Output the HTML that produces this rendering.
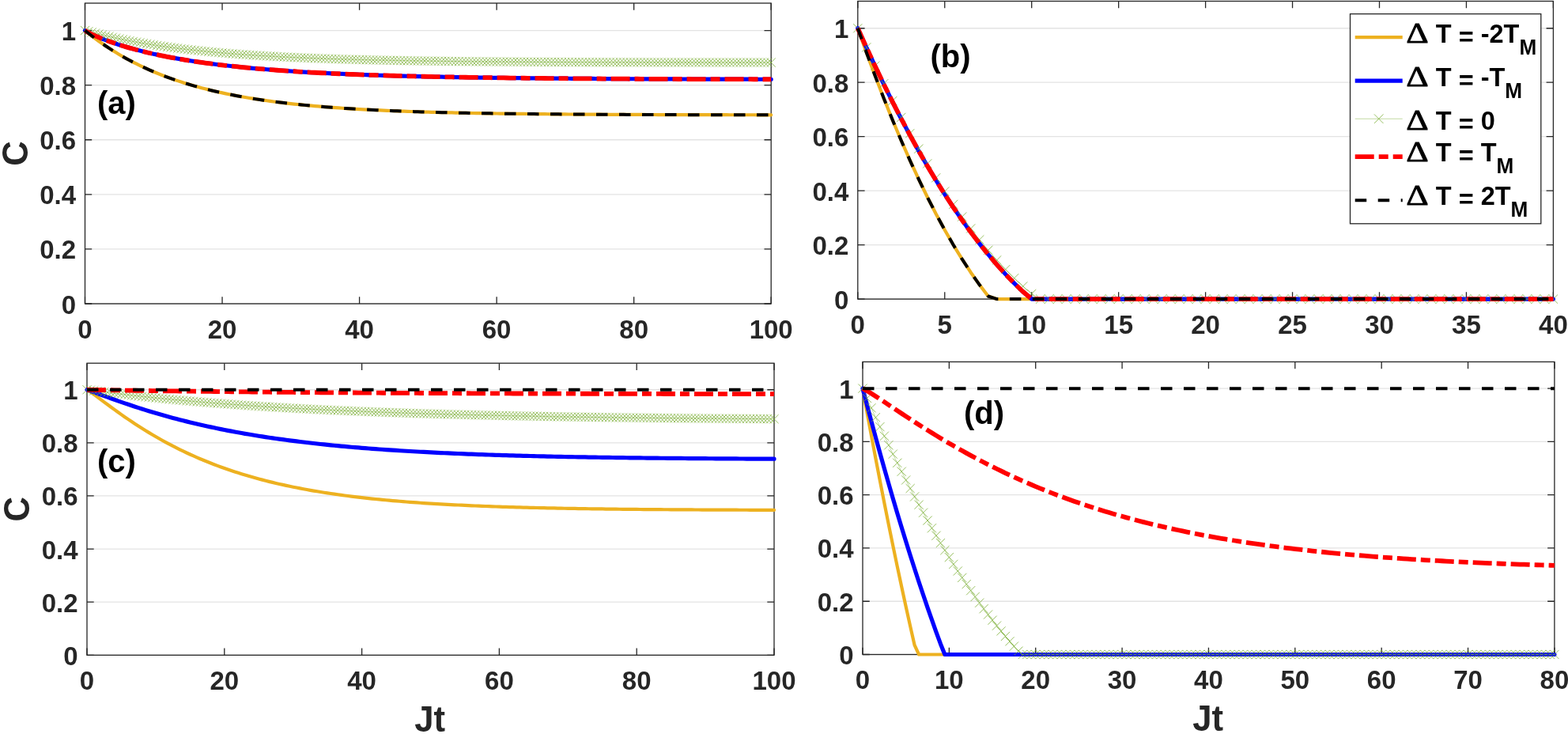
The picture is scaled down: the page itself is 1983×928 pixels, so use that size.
<!DOCTYPE html>
<html><head><meta charset="utf-8"><title>Figure</title>
<style>
html,body{margin:0;padding:0;background:#fff;}
body{width:1983px;height:928px;overflow:hidden;}
svg{display:block;}
.tk{font-family:'Liberation Sans', Arial, Helvetica, sans-serif;font-weight:bold;font-size:33px;fill:#262626;}
.lb{font-family:'Liberation Sans', Arial, Helvetica, sans-serif;font-weight:bold;font-size:40px;fill:#000;}
.ax{font-family:'Liberation Sans', Arial, Helvetica, sans-serif;font-weight:bold;font-size:46px;fill:#262626;}
.lg{font-family:'Liberation Sans', Arial, Helvetica, sans-serif;font-weight:bold;font-size:33.5px;fill:#000;}
.sb{font-size:27px;}
.dl{font-family:'Liberation Serif', serif;font-size:36px;fill:#000;stroke:#000;stroke-width:0.75px;}
</style></head>
<body>
<svg width="1983" height="928" viewBox="0 0 1983 928">
<rect width="1983" height="928" fill="#fff"/>
<line x1="107.5" y1="384" x2="975.2" y2="384" stroke="#e3e3e3" stroke-width="1.3"/>
<line x1="107.5" y1="314.91" x2="975.2" y2="314.91" stroke="#e3e3e3" stroke-width="1.3"/>
<line x1="107.5" y1="245.82" x2="975.2" y2="245.82" stroke="#e3e3e3" stroke-width="1.3"/>
<line x1="107.5" y1="176.73" x2="975.2" y2="176.73" stroke="#e3e3e3" stroke-width="1.3"/>
<line x1="107.5" y1="107.64" x2="975.2" y2="107.64" stroke="#e3e3e3" stroke-width="1.3"/>
<line x1="107.5" y1="38.55" x2="975.2" y2="38.55" stroke="#e3e3e3" stroke-width="1.3"/>
<path d="M107.5 384v-8.68M107.5 4v8.68M281.04 384v-8.68M281.04 4v8.68M454.58 384v-8.68M454.58 4v8.68M628.12 384v-8.68M628.12 4v8.68M801.66 384v-8.68M801.66 4v8.68M975.2 384v-8.68M975.2 4v8.68M107.5 384h8.68M975.2 384h-8.68M107.5 314.91h8.68M975.2 314.91h-8.68M107.5 245.82h8.68M975.2 245.82h-8.68M107.5 176.73h8.68M975.2 176.73h-8.68M107.5 107.64h8.68M975.2 107.64h-8.68M107.5 38.55h8.68M975.2 38.55h-8.68" stroke="#262626" stroke-width="1.3" fill="none"/>
<rect x="107.5" y="4" width="867.7" height="380" fill="none" stroke="#262626" stroke-width="1.3"/>
<polyline points="107.5,38.55 111.84,42.06 116.18,45.47 120.52,48.76 124.85,51.94 129.19,55.01 133.53,57.99 137.87,60.87 142.21,63.65 146.55,66.34 150.88,68.95 155.22,71.46 159.56,73.9 163.9,76.25 168.24,78.53 172.58,80.73 176.92,82.86 181.25,84.92 185.59,86.91 189.93,88.84 194.27,90.7 198.61,92.5 202.95,94.24 207.29,95.93 211.62,97.56 215.96,99.13 220.3,100.66 224.64,102.13 228.98,103.56 233.32,104.93 237.66,106.27 241.99,107.56 246.33,108.8 250.67,110.01 255.01,111.17 259.35,112.3 263.69,113.39 268.02,114.45 272.36,115.47 276.7,116.45 281.04,117.41 285.38,118.33 289.72,119.22 294.06,120.08 298.39,120.92 302.73,121.72 307.07,122.5 311.41,123.26 315.75,123.99 320.09,124.69 324.43,125.38 328.76,126.04 333.1,126.67 337.44,127.29 341.78,127.89 346.12,128.47 350.46,129.02 354.79,129.56 359.13,130.09 363.47,130.59 367.81,131.08 372.15,131.55 376.49,132.01 380.83,132.45 385.16,132.88 389.5,133.29 393.84,133.69 398.18,134.08 402.52,134.45 406.86,134.81 411.19,135.16 415.53,135.5 419.87,135.83 424.21,136.14 428.55,136.45 432.89,136.74 437.23,137.03 441.56,137.31 445.9,137.57 450.24,137.83 454.58,138.08 458.92,138.32 463.26,138.56 467.6,138.78 471.93,139 476.27,139.21 480.61,139.42 484.95,139.62 489.29,139.81 493.63,139.99 497.96,140.17 502.3,140.34 506.64,140.51 510.98,140.67 515.32,140.83 519.66,140.98 524,141.13 528.33,141.27 532.67,141.41 537.01,141.54 541.35,141.67 545.69,141.79 550.03,141.91 554.37,142.03 558.7,142.14 563.04,142.25 567.38,142.35 571.72,142.45 576.06,142.55 580.4,142.65 584.74,142.74 589.07,142.83 593.41,142.91 597.75,142.99 602.09,143.07 606.43,143.15 610.77,143.23 615.1,143.3 619.44,143.37 623.78,143.44 628.12,143.5 632.46,143.57 636.8,143.63 641.14,143.69 645.47,143.74 649.81,143.8 654.15,143.85 658.49,143.9 662.83,143.96 667.17,144 671.5,144.05 675.84,144.1 680.18,144.14 684.52,144.18 688.86,144.22 693.2,144.26 697.54,144.3 701.87,144.34 706.21,144.37 710.55,144.41 714.89,144.44 719.23,144.48 723.57,144.51 727.91,144.54 732.24,144.57 736.58,144.59 740.92,144.62 745.26,144.65 749.6,144.67 753.94,144.7 758.27,144.72 762.61,144.75 766.95,144.77 771.29,144.79 775.63,144.81 779.97,144.83 784.31,144.85 788.64,144.87 792.98,144.89 797.32,144.91 801.66,144.92 806,144.94 810.34,144.96 814.68,144.97 819.01,144.99 823.35,145 827.69,145.02 832.03,145.03 836.37,145.04 840.71,145.06 845.04,145.07 849.38,145.08 853.72,145.09 858.06,145.1 862.4,145.11 866.74,145.12 871.08,145.13 875.41,145.14 879.75,145.15 884.09,145.16 888.43,145.17 892.77,145.18 897.11,145.19 901.45,145.2 905.78,145.2 910.12,145.21 914.46,145.22 918.8,145.22 923.14,145.23 927.48,145.24 931.82,145.24 936.15,145.25 940.49,145.26 944.83,145.26 949.17,145.27 953.51,145.27 957.85,145.28 962.18,145.28 966.52,145.29 970.86,145.29 975.2,145.3" fill="none" stroke="#EDB120" stroke-width="4.2" stroke-linejoin="round" stroke-linecap="round"/>
<polyline points="107.5,38.55 111.84,41.14 116.18,43.32 120.52,45.33 124.85,47.21 129.19,48.99 133.53,50.68 137.87,52.28 142.21,53.82 146.55,55.29 150.88,56.7 155.22,58.05 159.56,59.35 163.9,60.61 168.24,61.81 172.58,62.97 176.92,64.09 181.25,65.18 185.59,66.22 189.93,67.23 194.27,68.2 198.61,69.14 202.95,70.05 207.29,70.93 211.62,71.78 215.96,72.61 220.3,73.4 224.64,74.18 228.98,74.92 233.32,75.65 237.66,76.35 241.99,77.03 246.33,77.69 250.67,78.33 255.01,78.94 259.35,79.54 263.69,80.13 268.02,80.69 272.36,81.24 276.7,81.77 281.04,82.29 285.38,82.79 289.72,83.27 294.06,83.74 298.39,84.2 302.73,84.65 307.07,85.08 311.41,85.5 315.75,85.9 320.09,86.3 324.43,86.68 328.76,87.05 333.1,87.42 337.44,87.77 341.78,88.11 346.12,88.44 350.46,88.76 354.79,89.08 359.13,89.38 363.47,89.68 367.81,89.97 372.15,90.25 376.49,90.52 380.83,90.78 385.16,91.04 389.5,91.29 393.84,91.54 398.18,91.77 402.52,92 406.86,92.23 411.19,92.44 415.53,92.66 419.87,92.86 424.21,93.06 428.55,93.26 432.89,93.45 437.23,93.63 441.56,93.81 445.9,93.99 450.24,94.16 454.58,94.32 458.92,94.48 463.26,94.64 467.6,94.79 471.93,94.94 476.27,95.09 480.61,95.23 484.95,95.36 489.29,95.5 493.63,95.63 497.96,95.75 502.3,95.88 506.64,96 510.98,96.11 515.32,96.23 519.66,96.34 524,96.44 528.33,96.55 532.67,96.65 537.01,96.75 541.35,96.85 545.69,96.94 550.03,97.03 554.37,97.12 558.7,97.21 563.04,97.29 567.38,97.38 571.72,97.46 576.06,97.54 580.4,97.61 584.74,97.69 589.07,97.76 593.41,97.83 597.75,97.9 602.09,97.97 606.43,98.03 610.77,98.1 615.1,98.16 619.44,98.22 623.78,98.28 628.12,98.33 632.46,98.39 636.8,98.44 641.14,98.5 645.47,98.55 649.81,98.6 654.15,98.65 658.49,98.7 662.83,98.74 667.17,98.79 671.5,98.83 675.84,98.88 680.18,98.92 684.52,98.96 688.86,99 693.2,99.04 697.54,99.08 701.87,99.11 706.21,99.15 710.55,99.19 714.89,99.22 719.23,99.25 723.57,99.29 727.91,99.32 732.24,99.35 736.58,99.38 740.92,99.41 745.26,99.44 749.6,99.47 753.94,99.49 758.27,99.52 762.61,99.55 766.95,99.57 771.29,99.6 775.63,99.62 779.97,99.64 784.31,99.67 788.64,99.69 792.98,99.71 797.32,99.73 801.66,99.75 806,99.77 810.34,99.79 814.68,99.81 819.01,99.83 823.35,99.85 827.69,99.87 832.03,99.88 836.37,99.9 840.71,99.92 845.04,99.93 849.38,99.95 853.72,99.96 858.06,99.98 862.4,99.99 866.74,100.01 871.08,100.02 875.41,100.04 879.75,100.05 884.09,100.06 888.43,100.07 892.77,100.09 897.11,100.1 901.45,100.11 905.78,100.12 910.12,100.13 914.46,100.14 918.8,100.15 923.14,100.16 927.48,100.18 931.82,100.18 936.15,100.19 940.49,100.2 944.83,100.21 949.17,100.22 953.51,100.23 957.85,100.24 962.18,100.25 966.52,100.26 970.86,100.26 975.2,100.27" fill="none" stroke="#0000FF" stroke-width="5.2" stroke-linejoin="round" stroke-linecap="round"/>
<g opacity="0.95"><polyline points="107.5,38.55 111.84,39.74 116.18,40.9 120.52,42.03 124.85,43.12 129.19,44.18 133.53,45.21 137.87,46.21 142.21,47.18 146.55,48.13 150.88,49.04 155.22,49.93 159.56,50.79 163.9,51.62 168.24,52.44 172.58,53.22 176.92,53.99 181.25,54.73 185.59,55.45 189.93,56.15 194.27,56.82 198.61,57.48 202.95,58.12 207.29,58.74 211.62,59.34 215.96,59.93 220.3,60.49 224.64,61.04 228.98,61.58 233.32,62.09 237.66,62.6 241.99,63.09 246.33,63.56 250.67,64.02 255.01,64.46 259.35,64.9 263.69,65.32 268.02,65.73 272.36,66.12 276.7,66.51 281.04,66.88 285.38,67.24 289.72,67.59 294.06,67.93 298.39,68.26 302.73,68.59 307.07,68.9 311.41,69.2 315.75,69.49 320.09,69.78 324.43,70.05 328.76,70.32 333.1,70.58 337.44,70.84 341.78,71.08 346.12,71.32 350.46,71.55 354.79,71.78 359.13,71.99 363.47,72.2 367.81,72.41 372.15,72.61 376.49,72.8 380.83,72.99 385.16,73.17 389.5,73.35 393.84,73.52 398.18,73.69 402.52,73.85 406.86,74 411.19,74.16 415.53,74.3 419.87,74.45 424.21,74.59 428.55,74.72 432.89,74.85 437.23,74.98 441.56,75.1 445.9,75.22 450.24,75.34 454.58,75.45 458.92,75.56 463.26,75.67 467.6,75.77 471.93,75.87 476.27,75.97 480.61,76.06 484.95,76.15 489.29,76.24 493.63,76.33 497.96,76.41 502.3,76.49 506.64,76.57 510.98,76.65 515.32,76.72 519.66,76.8 524,76.87 528.33,76.93 532.67,77 537.01,77.06 541.35,77.13 545.69,77.19 550.03,77.24 554.37,77.3 558.7,77.36 563.04,77.41 567.38,77.46 571.72,77.51 576.06,77.56 580.4,77.61 584.74,77.65 589.07,77.7 593.41,77.74 597.75,77.78 602.09,77.82 606.43,77.86 610.77,77.9 615.1,77.94 619.44,77.98 623.78,78.01 628.12,78.05 632.46,78.08 636.8,78.11 641.14,78.14 645.47,78.17 649.81,78.2 654.15,78.23 658.49,78.26 662.83,78.28 667.17,78.31 671.5,78.34 675.84,78.36 680.18,78.38 684.52,78.41 688.86,78.43 693.2,78.45 697.54,78.47 701.87,78.49 706.21,78.51 710.55,78.53 714.89,78.55 719.23,78.57 723.57,78.59 727.91,78.61 732.24,78.62 736.58,78.64 740.92,78.65 745.26,78.67 749.6,78.68 753.94,78.7 758.27,78.71 762.61,78.73 766.95,78.74 771.29,78.75 775.63,78.76 779.97,78.78 784.31,78.79 788.64,78.8 792.98,78.81 797.32,78.82 801.66,78.83 806,78.84 810.34,78.85 814.68,78.86 819.01,78.87 823.35,78.88 827.69,78.89 832.03,78.89 836.37,78.9 840.71,78.91 845.04,78.92 849.38,78.93 853.72,78.93 858.06,78.94 862.4,78.95 866.74,78.95 871.08,78.96 875.41,78.97 879.75,78.97 884.09,78.98 888.43,78.98 892.77,78.99 897.11,78.99 901.45,79 905.78,79 910.12,79.01 914.46,79.01 918.8,79.02 923.14,79.02 927.48,79.03 931.82,79.03 936.15,79.04 940.49,79.04 944.83,79.04 949.17,79.05 953.51,79.05 957.85,79.05 962.18,79.06 966.52,79.06 970.86,79.06 975.2,79.07" fill="none" stroke="#77AC30" stroke-width="0.8" stroke-opacity="0.6"/>
<path d="M101.9 32.95l11.2 11.2M101.9 44.15l11.2 -11.2M106.24 34.14l11.2 11.2M106.24 45.34l11.2 -11.2M110.58 35.3l11.2 11.2M110.58 46.5l11.2 -11.2M114.92 36.43l11.2 11.2M114.92 47.63l11.2 -11.2M119.25 37.52l11.2 11.2M119.25 48.72l11.2 -11.2M123.59 38.58l11.2 11.2M123.59 49.78l11.2 -11.2M127.93 39.61l11.2 11.2M127.93 50.81l11.2 -11.2M132.27 40.61l11.2 11.2M132.27 51.81l11.2 -11.2M136.61 41.58l11.2 11.2M136.61 52.78l11.2 -11.2M140.95 42.53l11.2 11.2M140.95 53.73l11.2 -11.2M145.28 43.44l11.2 11.2M145.28 54.64l11.2 -11.2M149.62 44.33l11.2 11.2M149.62 55.53l11.2 -11.2M153.96 45.19l11.2 11.2M153.96 56.39l11.2 -11.2M158.3 46.02l11.2 11.2M158.3 57.22l11.2 -11.2M162.64 46.84l11.2 11.2M162.64 58.04l11.2 -11.2M166.98 47.62l11.2 11.2M166.98 58.82l11.2 -11.2M171.32 48.39l11.2 11.2M171.32 59.59l11.2 -11.2M175.65 49.13l11.2 11.2M175.65 60.33l11.2 -11.2M179.99 49.85l11.2 11.2M179.99 61.05l11.2 -11.2M184.33 50.55l11.2 11.2M184.33 61.75l11.2 -11.2M188.67 51.22l11.2 11.2M188.67 62.42l11.2 -11.2M193.01 51.88l11.2 11.2M193.01 63.08l11.2 -11.2M197.35 52.52l11.2 11.2M197.35 63.72l11.2 -11.2M201.69 53.14l11.2 11.2M201.69 64.34l11.2 -11.2M206.02 53.74l11.2 11.2M206.02 64.94l11.2 -11.2M210.36 54.33l11.2 11.2M210.36 65.53l11.2 -11.2M214.7 54.89l11.2 11.2M214.7 66.09l11.2 -11.2M219.04 55.44l11.2 11.2M219.04 66.64l11.2 -11.2M223.38 55.98l11.2 11.2M223.38 67.18l11.2 -11.2M227.72 56.49l11.2 11.2M227.72 67.69l11.2 -11.2M232.06 57l11.2 11.2M232.06 68.2l11.2 -11.2M236.39 57.49l11.2 11.2M236.39 68.69l11.2 -11.2M240.73 57.96l11.2 11.2M240.73 69.16l11.2 -11.2M245.07 58.42l11.2 11.2M245.07 69.62l11.2 -11.2M249.41 58.86l11.2 11.2M249.41 70.06l11.2 -11.2M253.75 59.3l11.2 11.2M253.75 70.5l11.2 -11.2M258.09 59.72l11.2 11.2M258.09 70.92l11.2 -11.2M262.42 60.13l11.2 11.2M262.42 71.33l11.2 -11.2M266.76 60.52l11.2 11.2M266.76 71.72l11.2 -11.2M271.1 60.91l11.2 11.2M271.1 72.11l11.2 -11.2M275.44 61.28l11.2 11.2M275.44 72.48l11.2 -11.2M279.78 61.64l11.2 11.2M279.78 72.84l11.2 -11.2M284.12 61.99l11.2 11.2M284.12 73.19l11.2 -11.2M288.46 62.33l11.2 11.2M288.46 73.53l11.2 -11.2M292.79 62.66l11.2 11.2M292.79 73.86l11.2 -11.2M297.13 62.99l11.2 11.2M297.13 74.19l11.2 -11.2M301.47 63.3l11.2 11.2M301.47 74.5l11.2 -11.2M305.81 63.6l11.2 11.2M305.81 74.8l11.2 -11.2M310.15 63.89l11.2 11.2M310.15 75.09l11.2 -11.2M314.49 64.18l11.2 11.2M314.49 75.38l11.2 -11.2M318.82 64.45l11.2 11.2M318.82 75.65l11.2 -11.2M323.16 64.72l11.2 11.2M323.16 75.92l11.2 -11.2M327.5 64.98l11.2 11.2M327.5 76.18l11.2 -11.2M331.84 65.24l11.2 11.2M331.84 76.44l11.2 -11.2M336.18 65.48l11.2 11.2M336.18 76.68l11.2 -11.2M340.52 65.72l11.2 11.2M340.52 76.92l11.2 -11.2M344.86 65.95l11.2 11.2M344.86 77.15l11.2 -11.2M349.19 66.18l11.2 11.2M349.19 77.38l11.2 -11.2M353.53 66.39l11.2 11.2M353.53 77.59l11.2 -11.2M357.87 66.6l11.2 11.2M357.87 77.8l11.2 -11.2M362.21 66.81l11.2 11.2M362.21 78.01l11.2 -11.2M366.55 67.01l11.2 11.2M366.55 78.21l11.2 -11.2M370.89 67.2l11.2 11.2M370.89 78.4l11.2 -11.2M375.23 67.39l11.2 11.2M375.23 78.59l11.2 -11.2M379.56 67.57l11.2 11.2M379.56 78.77l11.2 -11.2M383.9 67.75l11.2 11.2M383.9 78.95l11.2 -11.2M388.24 67.92l11.2 11.2M388.24 79.12l11.2 -11.2M392.58 68.09l11.2 11.2M392.58 79.29l11.2 -11.2M396.92 68.25l11.2 11.2M396.92 79.45l11.2 -11.2M401.26 68.4l11.2 11.2M401.26 79.6l11.2 -11.2M405.59 68.56l11.2 11.2M405.59 79.76l11.2 -11.2M409.93 68.7l11.2 11.2M409.93 79.9l11.2 -11.2M414.27 68.85l11.2 11.2M414.27 80.05l11.2 -11.2M418.61 68.99l11.2 11.2M418.61 80.19l11.2 -11.2M422.95 69.12l11.2 11.2M422.95 80.32l11.2 -11.2M427.29 69.25l11.2 11.2M427.29 80.45l11.2 -11.2M431.63 69.38l11.2 11.2M431.63 80.58l11.2 -11.2M435.96 69.5l11.2 11.2M435.96 80.7l11.2 -11.2M440.3 69.62l11.2 11.2M440.3 80.82l11.2 -11.2M444.64 69.74l11.2 11.2M444.64 80.94l11.2 -11.2M448.98 69.85l11.2 11.2M448.98 81.05l11.2 -11.2M453.32 69.96l11.2 11.2M453.32 81.16l11.2 -11.2M457.66 70.07l11.2 11.2M457.66 81.27l11.2 -11.2M462 70.17l11.2 11.2M462 81.37l11.2 -11.2M466.33 70.27l11.2 11.2M466.33 81.47l11.2 -11.2M470.67 70.37l11.2 11.2M470.67 81.57l11.2 -11.2M475.01 70.46l11.2 11.2M475.01 81.66l11.2 -11.2M479.35 70.55l11.2 11.2M479.35 81.75l11.2 -11.2M483.69 70.64l11.2 11.2M483.69 81.84l11.2 -11.2M488.03 70.73l11.2 11.2M488.03 81.93l11.2 -11.2M492.36 70.81l11.2 11.2M492.36 82.01l11.2 -11.2M496.7 70.89l11.2 11.2M496.7 82.09l11.2 -11.2M501.04 70.97l11.2 11.2M501.04 82.17l11.2 -11.2M505.38 71.05l11.2 11.2M505.38 82.25l11.2 -11.2M509.72 71.12l11.2 11.2M509.72 82.32l11.2 -11.2M514.06 71.2l11.2 11.2M514.06 82.4l11.2 -11.2M518.4 71.27l11.2 11.2M518.4 82.47l11.2 -11.2M522.73 71.33l11.2 11.2M522.73 82.53l11.2 -11.2M527.07 71.4l11.2 11.2M527.07 82.6l11.2 -11.2M531.41 71.46l11.2 11.2M531.41 82.66l11.2 -11.2M535.75 71.53l11.2 11.2M535.75 82.73l11.2 -11.2M540.09 71.59l11.2 11.2M540.09 82.79l11.2 -11.2M544.43 71.64l11.2 11.2M544.43 82.84l11.2 -11.2M548.77 71.7l11.2 11.2M548.77 82.9l11.2 -11.2M553.1 71.76l11.2 11.2M553.1 82.96l11.2 -11.2M557.44 71.81l11.2 11.2M557.44 83.01l11.2 -11.2M561.78 71.86l11.2 11.2M561.78 83.06l11.2 -11.2M566.12 71.91l11.2 11.2M566.12 83.11l11.2 -11.2M570.46 71.96l11.2 11.2M570.46 83.16l11.2 -11.2M574.8 72.01l11.2 11.2M574.8 83.21l11.2 -11.2M579.13 72.05l11.2 11.2M579.13 83.25l11.2 -11.2M583.47 72.1l11.2 11.2M583.47 83.3l11.2 -11.2M587.81 72.14l11.2 11.2M587.81 83.34l11.2 -11.2M592.15 72.18l11.2 11.2M592.15 83.38l11.2 -11.2M596.49 72.22l11.2 11.2M596.49 83.42l11.2 -11.2M600.83 72.26l11.2 11.2M600.83 83.46l11.2 -11.2M605.17 72.3l11.2 11.2M605.17 83.5l11.2 -11.2M609.5 72.34l11.2 11.2M609.5 83.54l11.2 -11.2M613.84 72.38l11.2 11.2M613.84 83.58l11.2 -11.2M618.18 72.41l11.2 11.2M618.18 83.61l11.2 -11.2M622.52 72.45l11.2 11.2M622.52 83.65l11.2 -11.2M626.86 72.48l11.2 11.2M626.86 83.68l11.2 -11.2M631.2 72.51l11.2 11.2M631.2 83.71l11.2 -11.2M635.54 72.54l11.2 11.2M635.54 83.74l11.2 -11.2M639.87 72.57l11.2 11.2M639.87 83.77l11.2 -11.2M644.21 72.6l11.2 11.2M644.21 83.8l11.2 -11.2M648.55 72.63l11.2 11.2M648.55 83.83l11.2 -11.2M652.89 72.66l11.2 11.2M652.89 83.86l11.2 -11.2M657.23 72.68l11.2 11.2M657.23 83.88l11.2 -11.2M661.57 72.71l11.2 11.2M661.57 83.91l11.2 -11.2M665.9 72.74l11.2 11.2M665.9 83.94l11.2 -11.2M670.24 72.76l11.2 11.2M670.24 83.96l11.2 -11.2M674.58 72.78l11.2 11.2M674.58 83.98l11.2 -11.2M678.92 72.81l11.2 11.2M678.92 84.01l11.2 -11.2M683.26 72.83l11.2 11.2M683.26 84.03l11.2 -11.2M687.6 72.85l11.2 11.2M687.6 84.05l11.2 -11.2M691.94 72.87l11.2 11.2M691.94 84.07l11.2 -11.2M696.27 72.89l11.2 11.2M696.27 84.09l11.2 -11.2M700.61 72.91l11.2 11.2M700.61 84.11l11.2 -11.2M704.95 72.93l11.2 11.2M704.95 84.13l11.2 -11.2M709.29 72.95l11.2 11.2M709.29 84.15l11.2 -11.2M713.63 72.97l11.2 11.2M713.63 84.17l11.2 -11.2M717.97 72.99l11.2 11.2M717.97 84.19l11.2 -11.2M722.31 73.01l11.2 11.2M722.31 84.21l11.2 -11.2M726.64 73.02l11.2 11.2M726.64 84.22l11.2 -11.2M730.98 73.04l11.2 11.2M730.98 84.24l11.2 -11.2M735.32 73.05l11.2 11.2M735.32 84.25l11.2 -11.2M739.66 73.07l11.2 11.2M739.66 84.27l11.2 -11.2M744 73.08l11.2 11.2M744 84.28l11.2 -11.2M748.34 73.1l11.2 11.2M748.34 84.3l11.2 -11.2M752.67 73.11l11.2 11.2M752.67 84.31l11.2 -11.2M757.01 73.13l11.2 11.2M757.01 84.33l11.2 -11.2M761.35 73.14l11.2 11.2M761.35 84.34l11.2 -11.2M765.69 73.15l11.2 11.2M765.69 84.35l11.2 -11.2M770.03 73.16l11.2 11.2M770.03 84.36l11.2 -11.2M774.37 73.18l11.2 11.2M774.37 84.38l11.2 -11.2M778.71 73.19l11.2 11.2M778.71 84.39l11.2 -11.2M783.04 73.2l11.2 11.2M783.04 84.4l11.2 -11.2M787.38 73.21l11.2 11.2M787.38 84.41l11.2 -11.2M791.72 73.22l11.2 11.2M791.72 84.42l11.2 -11.2M796.06 73.23l11.2 11.2M796.06 84.43l11.2 -11.2M800.4 73.24l11.2 11.2M800.4 84.44l11.2 -11.2M804.74 73.25l11.2 11.2M804.74 84.45l11.2 -11.2M809.08 73.26l11.2 11.2M809.08 84.46l11.2 -11.2M813.41 73.27l11.2 11.2M813.41 84.47l11.2 -11.2M817.75 73.28l11.2 11.2M817.75 84.48l11.2 -11.2M822.09 73.29l11.2 11.2M822.09 84.49l11.2 -11.2M826.43 73.29l11.2 11.2M826.43 84.49l11.2 -11.2M830.77 73.3l11.2 11.2M830.77 84.5l11.2 -11.2M835.11 73.31l11.2 11.2M835.11 84.51l11.2 -11.2M839.44 73.32l11.2 11.2M839.44 84.52l11.2 -11.2M843.78 73.33l11.2 11.2M843.78 84.53l11.2 -11.2M848.12 73.33l11.2 11.2M848.12 84.53l11.2 -11.2M852.46 73.34l11.2 11.2M852.46 84.54l11.2 -11.2M856.8 73.35l11.2 11.2M856.8 84.55l11.2 -11.2M861.14 73.35l11.2 11.2M861.14 84.55l11.2 -11.2M865.48 73.36l11.2 11.2M865.48 84.56l11.2 -11.2M869.81 73.37l11.2 11.2M869.81 84.57l11.2 -11.2M874.15 73.37l11.2 11.2M874.15 84.57l11.2 -11.2M878.49 73.38l11.2 11.2M878.49 84.58l11.2 -11.2M882.83 73.38l11.2 11.2M882.83 84.58l11.2 -11.2M887.17 73.39l11.2 11.2M887.17 84.59l11.2 -11.2M891.51 73.39l11.2 11.2M891.51 84.59l11.2 -11.2M895.85 73.4l11.2 11.2M895.85 84.6l11.2 -11.2M900.18 73.4l11.2 11.2M900.18 84.6l11.2 -11.2M904.52 73.41l11.2 11.2M904.52 84.61l11.2 -11.2M908.86 73.41l11.2 11.2M908.86 84.61l11.2 -11.2M913.2 73.42l11.2 11.2M913.2 84.62l11.2 -11.2M917.54 73.42l11.2 11.2M917.54 84.62l11.2 -11.2M921.88 73.43l11.2 11.2M921.88 84.63l11.2 -11.2M926.22 73.43l11.2 11.2M926.22 84.63l11.2 -11.2M930.55 73.44l11.2 11.2M930.55 84.64l11.2 -11.2M934.89 73.44l11.2 11.2M934.89 84.64l11.2 -11.2M939.23 73.44l11.2 11.2M939.23 84.64l11.2 -11.2M943.57 73.45l11.2 11.2M943.57 84.65l11.2 -11.2M947.91 73.45l11.2 11.2M947.91 84.65l11.2 -11.2M952.25 73.45l11.2 11.2M952.25 84.65l11.2 -11.2M956.58 73.46l11.2 11.2M956.58 84.66l11.2 -11.2M960.92 73.46l11.2 11.2M960.92 84.66l11.2 -11.2M965.26 73.46l11.2 11.2M965.26 84.66l11.2 -11.2M969.6 73.47l11.2 11.2M969.6 84.67l11.2 -11.2" fill="none" stroke="#77AC30" stroke-width="0.8"/></g>
<polyline points="107.5,38.55 111.84,41.14 116.18,43.32 120.52,45.33 124.85,47.21 129.19,48.99 133.53,50.68 137.87,52.28 142.21,53.82 146.55,55.29 150.88,56.7 155.22,58.05 159.56,59.35 163.9,60.61 168.24,61.81 172.58,62.97 176.92,64.09 181.25,65.18 185.59,66.22 189.93,67.23 194.27,68.2 198.61,69.14 202.95,70.05 207.29,70.93 211.62,71.78 215.96,72.61 220.3,73.4 224.64,74.18 228.98,74.92 233.32,75.65 237.66,76.35 241.99,77.03 246.33,77.69 250.67,78.33 255.01,78.94 259.35,79.54 263.69,80.13 268.02,80.69 272.36,81.24 276.7,81.77 281.04,82.29 285.38,82.79 289.72,83.27 294.06,83.74 298.39,84.2 302.73,84.65 307.07,85.08 311.41,85.5 315.75,85.9 320.09,86.3 324.43,86.68 328.76,87.05 333.1,87.42 337.44,87.77 341.78,88.11 346.12,88.44 350.46,88.76 354.79,89.08 359.13,89.38 363.47,89.68 367.81,89.97 372.15,90.25 376.49,90.52 380.83,90.78 385.16,91.04 389.5,91.29 393.84,91.54 398.18,91.77 402.52,92 406.86,92.23 411.19,92.44 415.53,92.66 419.87,92.86 424.21,93.06 428.55,93.26 432.89,93.45 437.23,93.63 441.56,93.81 445.9,93.99 450.24,94.16 454.58,94.32 458.92,94.48 463.26,94.64 467.6,94.79 471.93,94.94 476.27,95.09 480.61,95.23 484.95,95.36 489.29,95.5 493.63,95.63 497.96,95.75 502.3,95.88 506.64,96 510.98,96.11 515.32,96.23 519.66,96.34 524,96.44 528.33,96.55 532.67,96.65 537.01,96.75 541.35,96.85 545.69,96.94 550.03,97.03 554.37,97.12 558.7,97.21 563.04,97.29 567.38,97.38 571.72,97.46 576.06,97.54 580.4,97.61 584.74,97.69 589.07,97.76 593.41,97.83 597.75,97.9 602.09,97.97 606.43,98.03 610.77,98.1 615.1,98.16 619.44,98.22 623.78,98.28 628.12,98.33 632.46,98.39 636.8,98.44 641.14,98.5 645.47,98.55 649.81,98.6 654.15,98.65 658.49,98.7 662.83,98.74 667.17,98.79 671.5,98.83 675.84,98.88 680.18,98.92 684.52,98.96 688.86,99 693.2,99.04 697.54,99.08 701.87,99.11 706.21,99.15 710.55,99.19 714.89,99.22 719.23,99.25 723.57,99.29 727.91,99.32 732.24,99.35 736.58,99.38 740.92,99.41 745.26,99.44 749.6,99.47 753.94,99.49 758.27,99.52 762.61,99.55 766.95,99.57 771.29,99.6 775.63,99.62 779.97,99.64 784.31,99.67 788.64,99.69 792.98,99.71 797.32,99.73 801.66,99.75 806,99.77 810.34,99.79 814.68,99.81 819.01,99.83 823.35,99.85 827.69,99.87 832.03,99.88 836.37,99.9 840.71,99.92 845.04,99.93 849.38,99.95 853.72,99.96 858.06,99.98 862.4,99.99 866.74,100.01 871.08,100.02 875.41,100.04 879.75,100.05 884.09,100.06 888.43,100.07 892.77,100.09 897.11,100.1 901.45,100.11 905.78,100.12 910.12,100.13 914.46,100.14 918.8,100.15 923.14,100.16 927.48,100.18 931.82,100.18 936.15,100.19 940.49,100.2 944.83,100.21 949.17,100.22 953.51,100.23 957.85,100.24 962.18,100.25 966.52,100.26 970.86,100.26 975.2,100.27" fill="none" stroke="#FF0000" stroke-width="5.8" stroke-linejoin="round" stroke-dasharray="24 6 12 6"/>
<polyline points="107.5,38.55 111.84,42.06 116.18,45.47 120.52,48.76 124.85,51.94 129.19,55.01 133.53,57.99 137.87,60.87 142.21,63.65 146.55,66.34 150.88,68.95 155.22,71.46 159.56,73.9 163.9,76.25 168.24,78.53 172.58,80.73 176.92,82.86 181.25,84.92 185.59,86.91 189.93,88.84 194.27,90.7 198.61,92.5 202.95,94.24 207.29,95.93 211.62,97.56 215.96,99.13 220.3,100.66 224.64,102.13 228.98,103.56 233.32,104.93 237.66,106.27 241.99,107.56 246.33,108.8 250.67,110.01 255.01,111.17 259.35,112.3 263.69,113.39 268.02,114.45 272.36,115.47 276.7,116.45 281.04,117.41 285.38,118.33 289.72,119.22 294.06,120.08 298.39,120.92 302.73,121.72 307.07,122.5 311.41,123.26 315.75,123.99 320.09,124.69 324.43,125.38 328.76,126.04 333.1,126.67 337.44,127.29 341.78,127.89 346.12,128.47 350.46,129.02 354.79,129.56 359.13,130.09 363.47,130.59 367.81,131.08 372.15,131.55 376.49,132.01 380.83,132.45 385.16,132.88 389.5,133.29 393.84,133.69 398.18,134.08 402.52,134.45 406.86,134.81 411.19,135.16 415.53,135.5 419.87,135.83 424.21,136.14 428.55,136.45 432.89,136.74 437.23,137.03 441.56,137.31 445.9,137.57 450.24,137.83 454.58,138.08 458.92,138.32 463.26,138.56 467.6,138.78 471.93,139 476.27,139.21 480.61,139.42 484.95,139.62 489.29,139.81 493.63,139.99 497.96,140.17 502.3,140.34 506.64,140.51 510.98,140.67 515.32,140.83 519.66,140.98 524,141.13 528.33,141.27 532.67,141.41 537.01,141.54 541.35,141.67 545.69,141.79 550.03,141.91 554.37,142.03 558.7,142.14 563.04,142.25 567.38,142.35 571.72,142.45 576.06,142.55 580.4,142.65 584.74,142.74 589.07,142.83 593.41,142.91 597.75,142.99 602.09,143.07 606.43,143.15 610.77,143.23 615.1,143.3 619.44,143.37 623.78,143.44 628.12,143.5 632.46,143.57 636.8,143.63 641.14,143.69 645.47,143.74 649.81,143.8 654.15,143.85 658.49,143.9 662.83,143.96 667.17,144 671.5,144.05 675.84,144.1 680.18,144.14 684.52,144.18 688.86,144.22 693.2,144.26 697.54,144.3 701.87,144.34 706.21,144.37 710.55,144.41 714.89,144.44 719.23,144.48 723.57,144.51 727.91,144.54 732.24,144.57 736.58,144.59 740.92,144.62 745.26,144.65 749.6,144.67 753.94,144.7 758.27,144.72 762.61,144.75 766.95,144.77 771.29,144.79 775.63,144.81 779.97,144.83 784.31,144.85 788.64,144.87 792.98,144.89 797.32,144.91 801.66,144.92 806,144.94 810.34,144.96 814.68,144.97 819.01,144.99 823.35,145 827.69,145.02 832.03,145.03 836.37,145.04 840.71,145.06 845.04,145.07 849.38,145.08 853.72,145.09 858.06,145.1 862.4,145.11 866.74,145.12 871.08,145.13 875.41,145.14 879.75,145.15 884.09,145.16 888.43,145.17 892.77,145.18 897.11,145.19 901.45,145.2 905.78,145.2 910.12,145.21 914.46,145.22 918.8,145.22 923.14,145.23 927.48,145.24 931.82,145.24 936.15,145.25 940.49,145.26 944.83,145.26 949.17,145.27 953.51,145.27 957.85,145.28 962.18,145.28 966.52,145.29 970.86,145.29 975.2,145.3" fill="none" stroke="#000000" stroke-width="4.0" stroke-linejoin="round" stroke-dasharray="14.5 14.5"/>
<text x="107.5" y="427.5" text-anchor="middle" class="tk">0</text>
<text x="281.04" y="427.5" text-anchor="middle" class="tk">20</text>
<text x="454.58" y="427.5" text-anchor="middle" class="tk">40</text>
<text x="628.12" y="427.5" text-anchor="middle" class="tk">60</text>
<text x="801.66" y="427.5" text-anchor="middle" class="tk">80</text>
<text x="975.2" y="427.5" text-anchor="middle" class="tk">100</text>
<text x="96" y="396.5" text-anchor="end" class="tk">0</text>
<text x="96" y="327.41" text-anchor="end" class="tk">0.2</text>
<text x="96" y="258.32" text-anchor="end" class="tk">0.4</text>
<text x="96" y="189.23" text-anchor="end" class="tk">0.6</text>
<text x="96" y="120.14" text-anchor="end" class="tk">0.8</text>
<text x="96" y="51.05" text-anchor="end" class="tk">1</text>
<line x1="1084.8" y1="378.1" x2="1964.4" y2="378.1" stroke="#e3e3e3" stroke-width="1.3"/>
<line x1="1084.8" y1="309.63" x2="1964.4" y2="309.63" stroke="#e3e3e3" stroke-width="1.3"/>
<line x1="1084.8" y1="241.15" x2="1964.4" y2="241.15" stroke="#e3e3e3" stroke-width="1.3"/>
<line x1="1084.8" y1="172.68" x2="1964.4" y2="172.68" stroke="#e3e3e3" stroke-width="1.3"/>
<line x1="1084.8" y1="104.21" x2="1964.4" y2="104.21" stroke="#e3e3e3" stroke-width="1.3"/>
<line x1="1084.8" y1="35.74" x2="1964.4" y2="35.74" stroke="#e3e3e3" stroke-width="1.3"/>
<path d="M1084.8 378.1v-8.8M1084.8 1.5v8.8M1194.75 378.1v-8.8M1194.75 1.5v8.8M1304.7 378.1v-8.8M1304.7 1.5v8.8M1414.65 378.1v-8.8M1414.65 1.5v8.8M1524.6 378.1v-8.8M1524.6 1.5v8.8M1634.55 378.1v-8.8M1634.55 1.5v8.8M1744.5 378.1v-8.8M1744.5 1.5v8.8M1854.45 378.1v-8.8M1854.45 1.5v8.8M1964.4 378.1v-8.8M1964.4 1.5v8.8M1084.8 378.1h8.8M1964.4 378.1h-8.8M1084.8 309.63h8.8M1964.4 309.63h-8.8M1084.8 241.15h8.8M1964.4 241.15h-8.8M1084.8 172.68h8.8M1964.4 172.68h-8.8M1084.8 104.21h8.8M1964.4 104.21h-8.8M1084.8 35.74h8.8M1964.4 35.74h-8.8" stroke="#262626" stroke-width="1.3" fill="none"/>
<rect x="1084.8" y="1.5" width="879.6" height="376.6" fill="none" stroke="#262626" stroke-width="1.3"/>
<polyline points="1084.8,35.74 1095.79,66.48 1106.79,96.06 1117.78,124.47 1128.78,151.72 1139.77,177.8 1150.77,202.71 1161.76,226.46 1172.76,249.04 1183.75,270.46 1194.75,290.71 1205.74,309.8 1216.74,327.72 1227.73,344.47 1238.73,360.06 1249.72,374.48 1260.72,378.1 1271.71,378.1 1282.71,378.1 1293.7,378.1 1304.7,378.1 1315.69,378.1 1326.69,378.1 1337.68,378.1 1348.68,378.1 1359.67,378.1 1370.67,378.1 1381.66,378.1 1392.66,378.1 1403.65,378.1 1414.65,378.1 1425.64,378.1 1436.64,378.1 1447.63,378.1 1458.63,378.1 1469.62,378.1 1480.62,378.1 1491.62,378.1 1502.61,378.1 1513.61,378.1 1524.6,378.1 1535.6,378.1 1546.59,378.1 1557.59,378.1 1568.58,378.1 1579.58,378.1 1590.57,378.1 1601.57,378.1 1612.56,378.1 1623.56,378.1 1634.55,378.1 1645.55,378.1 1656.54,378.1 1667.54,378.1 1678.53,378.1 1689.53,378.1 1700.52,378.1 1711.51,378.1 1722.51,378.1 1733.51,378.1 1744.5,378.1 1755.49,378.1 1766.49,378.1 1777.49,378.1 1788.48,378.1 1799.47,378.1 1810.47,378.1 1821.47,378.1 1832.46,378.1 1843.45,378.1 1854.45,378.1 1865.45,378.1 1876.44,378.1 1887.43,378.1 1898.43,378.1 1909.43,378.1 1920.42,378.1 1931.41,378.1 1942.41,378.1 1953.41,378.1 1964.4,378.1" fill="none" stroke="#EDB120" stroke-width="4.2" stroke-linejoin="round" stroke-linecap="round"/>
<polyline points="1084.8,35.74 1095.79,60.17 1106.79,83.84 1117.78,106.75 1128.78,128.88 1139.77,150.25 1150.77,170.85 1161.76,190.68 1172.76,209.74 1183.75,228.03 1194.75,245.56 1205.74,262.32 1216.74,278.31 1227.73,293.54 1238.73,308 1249.72,321.68 1260.72,334.61 1271.71,346.76 1282.71,358.15 1293.7,368.76 1304.7,378.1 1315.69,378.1 1326.69,378.1 1337.68,378.1 1348.68,378.1 1359.67,378.1 1370.67,378.1 1381.66,378.1 1392.66,378.1 1403.65,378.1 1414.65,378.1 1425.64,378.1 1436.64,378.1 1447.63,378.1 1458.63,378.1 1469.62,378.1 1480.62,378.1 1491.62,378.1 1502.61,378.1 1513.61,378.1 1524.6,378.1 1535.6,378.1 1546.59,378.1 1557.59,378.1 1568.58,378.1 1579.58,378.1 1590.57,378.1 1601.57,378.1 1612.56,378.1 1623.56,378.1 1634.55,378.1 1645.55,378.1 1656.54,378.1 1667.54,378.1 1678.53,378.1 1689.53,378.1 1700.52,378.1 1711.51,378.1 1722.51,378.1 1733.51,378.1 1744.5,378.1 1755.49,378.1 1766.49,378.1 1777.49,378.1 1788.48,378.1 1799.47,378.1 1810.47,378.1 1821.47,378.1 1832.46,378.1 1843.45,378.1 1854.45,378.1 1865.45,378.1 1876.44,378.1 1887.43,378.1 1898.43,378.1 1909.43,378.1 1920.42,378.1 1931.41,378.1 1942.41,378.1 1953.41,378.1 1964.4,378.1" fill="none" stroke="#0000FF" stroke-width="5.2" stroke-linejoin="round" stroke-linecap="round"/>
<g opacity="0.95"><polyline points="1084.8,35.74 1095.79,59.81 1106.79,83.12 1117.78,105.67 1128.78,127.44 1139.77,148.45 1150.77,168.69 1161.76,188.16 1172.76,206.86 1183.75,224.8 1194.75,241.97 1205.74,258.37 1216.74,274 1227.73,288.87 1238.73,302.96 1249.72,316.29 1260.72,328.85 1271.71,340.65 1282.71,351.67 1293.7,361.93 1304.7,371.42 1315.69,378.1 1326.69,378.1 1337.68,378.1 1348.68,378.1 1359.67,378.1 1370.67,378.1 1381.66,378.1 1392.66,378.1 1403.65,378.1 1414.65,378.1 1425.64,378.1 1436.64,378.1 1447.63,378.1 1458.63,378.1 1469.62,378.1 1480.62,378.1 1491.62,378.1 1502.61,378.1 1513.61,378.1 1524.6,378.1 1535.6,378.1 1546.59,378.1 1557.59,378.1 1568.58,378.1 1579.58,378.1 1590.57,378.1 1601.57,378.1 1612.56,378.1 1623.56,378.1 1634.55,378.1 1645.55,378.1 1656.54,378.1 1667.54,378.1 1678.53,378.1 1689.53,378.1 1700.52,378.1 1711.51,378.1 1722.51,378.1 1733.51,378.1 1744.5,378.1 1755.49,378.1 1766.49,378.1 1777.49,378.1 1788.48,378.1 1799.47,378.1 1810.47,378.1 1821.47,378.1 1832.46,378.1 1843.45,378.1 1854.45,378.1 1865.45,378.1 1876.44,378.1 1887.43,378.1 1898.43,378.1 1909.43,378.1 1920.42,378.1 1931.41,378.1 1942.41,378.1 1953.41,378.1 1964.4,378.1" fill="none" stroke="#77AC30" stroke-width="0.8" stroke-opacity="0.6"/>
<path d="M1079.2 30.14l11.2 11.2M1079.2 41.34l11.2 -11.2M1090.19 54.21l11.2 11.2M1090.19 65.41l11.2 -11.2M1101.19 77.52l11.2 11.2M1101.19 88.72l11.2 -11.2M1112.18 100.07l11.2 11.2M1112.18 111.27l11.2 -11.2M1123.18 121.84l11.2 11.2M1123.18 133.04l11.2 -11.2M1134.17 142.85l11.2 11.2M1134.17 154.05l11.2 -11.2M1145.17 163.09l11.2 11.2M1145.17 174.29l11.2 -11.2M1156.16 182.56l11.2 11.2M1156.16 193.76l11.2 -11.2M1167.16 201.26l11.2 11.2M1167.16 212.46l11.2 -11.2M1178.15 219.2l11.2 11.2M1178.15 230.4l11.2 -11.2M1189.15 236.37l11.2 11.2M1189.15 247.57l11.2 -11.2M1200.14 252.77l11.2 11.2M1200.14 263.97l11.2 -11.2M1211.14 268.4l11.2 11.2M1211.14 279.6l11.2 -11.2M1222.13 283.27l11.2 11.2M1222.13 294.47l11.2 -11.2M1233.13 297.36l11.2 11.2M1233.13 308.56l11.2 -11.2M1244.12 310.69l11.2 11.2M1244.12 321.89l11.2 -11.2M1255.12 323.25l11.2 11.2M1255.12 334.45l11.2 -11.2M1266.12 335.05l11.2 11.2M1266.12 346.25l11.2 -11.2M1277.11 346.07l11.2 11.2M1277.11 357.27l11.2 -11.2M1288.11 356.33l11.2 11.2M1288.11 367.53l11.2 -11.2M1299.1 365.82l11.2 11.2M1299.1 377.02l11.2 -11.2M1310.1 372.5l11.2 11.2M1310.1 383.7l11.2 -11.2M1321.09 372.5l11.2 11.2M1321.09 383.7l11.2 -11.2M1332.09 372.5l11.2 11.2M1332.09 383.7l11.2 -11.2M1343.08 372.5l11.2 11.2M1343.08 383.7l11.2 -11.2M1354.08 372.5l11.2 11.2M1354.08 383.7l11.2 -11.2M1365.07 372.5l11.2 11.2M1365.07 383.7l11.2 -11.2M1376.07 372.5l11.2 11.2M1376.07 383.7l11.2 -11.2M1387.06 372.5l11.2 11.2M1387.06 383.7l11.2 -11.2M1398.06 372.5l11.2 11.2M1398.06 383.7l11.2 -11.2M1409.05 372.5l11.2 11.2M1409.05 383.7l11.2 -11.2M1420.05 372.5l11.2 11.2M1420.05 383.7l11.2 -11.2M1431.04 372.5l11.2 11.2M1431.04 383.7l11.2 -11.2M1442.04 372.5l11.2 11.2M1442.04 383.7l11.2 -11.2M1453.03 372.5l11.2 11.2M1453.03 383.7l11.2 -11.2M1464.03 372.5l11.2 11.2M1464.03 383.7l11.2 -11.2M1475.02 372.5l11.2 11.2M1475.02 383.7l11.2 -11.2M1486.02 372.5l11.2 11.2M1486.02 383.7l11.2 -11.2M1497.01 372.5l11.2 11.2M1497.01 383.7l11.2 -11.2M1508.01 372.5l11.2 11.2M1508.01 383.7l11.2 -11.2M1519 372.5l11.2 11.2M1519 383.7l11.2 -11.2M1530 372.5l11.2 11.2M1530 383.7l11.2 -11.2M1540.99 372.5l11.2 11.2M1540.99 383.7l11.2 -11.2M1551.99 372.5l11.2 11.2M1551.99 383.7l11.2 -11.2M1562.98 372.5l11.2 11.2M1562.98 383.7l11.2 -11.2M1573.98 372.5l11.2 11.2M1573.98 383.7l11.2 -11.2M1584.97 372.5l11.2 11.2M1584.97 383.7l11.2 -11.2M1595.97 372.5l11.2 11.2M1595.97 383.7l11.2 -11.2M1606.96 372.5l11.2 11.2M1606.96 383.7l11.2 -11.2M1617.96 372.5l11.2 11.2M1617.96 383.7l11.2 -11.2M1628.95 372.5l11.2 11.2M1628.95 383.7l11.2 -11.2M1639.95 372.5l11.2 11.2M1639.95 383.7l11.2 -11.2M1650.94 372.5l11.2 11.2M1650.94 383.7l11.2 -11.2M1661.94 372.5l11.2 11.2M1661.94 383.7l11.2 -11.2M1672.93 372.5l11.2 11.2M1672.93 383.7l11.2 -11.2M1683.93 372.5l11.2 11.2M1683.93 383.7l11.2 -11.2M1694.92 372.5l11.2 11.2M1694.92 383.7l11.2 -11.2M1705.91 372.5l11.2 11.2M1705.91 383.7l11.2 -11.2M1716.91 372.5l11.2 11.2M1716.91 383.7l11.2 -11.2M1727.91 372.5l11.2 11.2M1727.91 383.7l11.2 -11.2M1738.9 372.5l11.2 11.2M1738.9 383.7l11.2 -11.2M1749.89 372.5l11.2 11.2M1749.89 383.7l11.2 -11.2M1760.89 372.5l11.2 11.2M1760.89 383.7l11.2 -11.2M1771.89 372.5l11.2 11.2M1771.89 383.7l11.2 -11.2M1782.88 372.5l11.2 11.2M1782.88 383.7l11.2 -11.2M1793.88 372.5l11.2 11.2M1793.88 383.7l11.2 -11.2M1804.87 372.5l11.2 11.2M1804.87 383.7l11.2 -11.2M1815.87 372.5l11.2 11.2M1815.87 383.7l11.2 -11.2M1826.86 372.5l11.2 11.2M1826.86 383.7l11.2 -11.2M1837.86 372.5l11.2 11.2M1837.86 383.7l11.2 -11.2M1848.85 372.5l11.2 11.2M1848.85 383.7l11.2 -11.2M1859.85 372.5l11.2 11.2M1859.85 383.7l11.2 -11.2M1870.84 372.5l11.2 11.2M1870.84 383.7l11.2 -11.2M1881.84 372.5l11.2 11.2M1881.84 383.7l11.2 -11.2M1892.83 372.5l11.2 11.2M1892.83 383.7l11.2 -11.2M1903.83 372.5l11.2 11.2M1903.83 383.7l11.2 -11.2M1914.82 372.5l11.2 11.2M1914.82 383.7l11.2 -11.2M1925.82 372.5l11.2 11.2M1925.82 383.7l11.2 -11.2M1936.81 372.5l11.2 11.2M1936.81 383.7l11.2 -11.2M1947.81 372.5l11.2 11.2M1947.81 383.7l11.2 -11.2M1958.8 372.5l11.2 11.2M1958.8 383.7l11.2 -11.2" fill="none" stroke="#77AC30" stroke-width="0.8"/></g>
<polyline points="1084.8,35.74 1095.79,60.17 1106.79,83.84 1117.78,106.75 1128.78,128.88 1139.77,150.25 1150.77,170.85 1161.76,190.68 1172.76,209.74 1183.75,228.03 1194.75,245.56 1205.74,262.32 1216.74,278.31 1227.73,293.54 1238.73,308 1249.72,321.68 1260.72,334.61 1271.71,346.76 1282.71,358.15 1293.7,368.76 1304.7,378.1 1315.69,378.1 1326.69,378.1 1337.68,378.1 1348.68,378.1 1359.67,378.1 1370.67,378.1 1381.66,378.1 1392.66,378.1 1403.65,378.1 1414.65,378.1 1425.64,378.1 1436.64,378.1 1447.63,378.1 1458.63,378.1 1469.62,378.1 1480.62,378.1 1491.62,378.1 1502.61,378.1 1513.61,378.1 1524.6,378.1 1535.6,378.1 1546.59,378.1 1557.59,378.1 1568.58,378.1 1579.58,378.1 1590.57,378.1 1601.57,378.1 1612.56,378.1 1623.56,378.1 1634.55,378.1 1645.55,378.1 1656.54,378.1 1667.54,378.1 1678.53,378.1 1689.53,378.1 1700.52,378.1 1711.51,378.1 1722.51,378.1 1733.51,378.1 1744.5,378.1 1755.49,378.1 1766.49,378.1 1777.49,378.1 1788.48,378.1 1799.47,378.1 1810.47,378.1 1821.47,378.1 1832.46,378.1 1843.45,378.1 1854.45,378.1 1865.45,378.1 1876.44,378.1 1887.43,378.1 1898.43,378.1 1909.43,378.1 1920.42,378.1 1931.41,378.1 1942.41,378.1 1953.41,378.1 1964.4,378.1" fill="none" stroke="#FF0000" stroke-width="5.8" stroke-linejoin="round" stroke-dasharray="24 6 12 6"/>
<polyline points="1084.8,35.74 1095.79,66.48 1106.79,96.06 1117.78,124.47 1128.78,151.72 1139.77,177.8 1150.77,202.71 1161.76,226.46 1172.76,249.04 1183.75,270.46 1194.75,290.71 1205.74,309.8 1216.74,327.72 1227.73,344.47 1238.73,360.06 1249.72,374.48 1260.72,378.1 1271.71,378.1 1282.71,378.1 1293.7,378.1 1304.7,378.1 1315.69,378.1 1326.69,378.1 1337.68,378.1 1348.68,378.1 1359.67,378.1 1370.67,378.1 1381.66,378.1 1392.66,378.1 1403.65,378.1 1414.65,378.1 1425.64,378.1 1436.64,378.1 1447.63,378.1 1458.63,378.1 1469.62,378.1 1480.62,378.1 1491.62,378.1 1502.61,378.1 1513.61,378.1 1524.6,378.1 1535.6,378.1 1546.59,378.1 1557.59,378.1 1568.58,378.1 1579.58,378.1 1590.57,378.1 1601.57,378.1 1612.56,378.1 1623.56,378.1 1634.55,378.1 1645.55,378.1 1656.54,378.1 1667.54,378.1 1678.53,378.1 1689.53,378.1 1700.52,378.1 1711.51,378.1 1722.51,378.1 1733.51,378.1 1744.5,378.1 1755.49,378.1 1766.49,378.1 1777.49,378.1 1788.48,378.1 1799.47,378.1 1810.47,378.1 1821.47,378.1 1832.46,378.1 1843.45,378.1 1854.45,378.1 1865.45,378.1 1876.44,378.1 1887.43,378.1 1898.43,378.1 1909.43,378.1 1920.42,378.1 1931.41,378.1 1942.41,378.1 1953.41,378.1 1964.4,378.1" fill="none" stroke="#000000" stroke-width="4.0" stroke-linejoin="round" stroke-dasharray="14.5 14.5"/>
<text x="1084.8" y="421.6" text-anchor="middle" class="tk">0</text>
<text x="1194.75" y="421.6" text-anchor="middle" class="tk">5</text>
<text x="1304.7" y="421.6" text-anchor="middle" class="tk">10</text>
<text x="1414.65" y="421.6" text-anchor="middle" class="tk">15</text>
<text x="1524.6" y="421.6" text-anchor="middle" class="tk">20</text>
<text x="1634.55" y="421.6" text-anchor="middle" class="tk">25</text>
<text x="1744.5" y="421.6" text-anchor="middle" class="tk">30</text>
<text x="1854.45" y="421.6" text-anchor="middle" class="tk">35</text>
<text x="1964.4" y="421.6" text-anchor="middle" class="tk">40</text>
<text x="1073.3" y="390.6" text-anchor="end" class="tk">0</text>
<text x="1073.3" y="322.13" text-anchor="end" class="tk">0.2</text>
<text x="1073.3" y="253.65" text-anchor="end" class="tk">0.4</text>
<text x="1073.3" y="185.18" text-anchor="end" class="tk">0.6</text>
<text x="1073.3" y="116.71" text-anchor="end" class="tk">0.8</text>
<text x="1073.3" y="48.24" text-anchor="end" class="tk">1</text>
<line x1="110" y1="828.3" x2="979" y2="828.3" stroke="#e3e3e3" stroke-width="1.3"/>
<line x1="110" y1="761.19" x2="979" y2="761.19" stroke="#e3e3e3" stroke-width="1.3"/>
<line x1="110" y1="694.08" x2="979" y2="694.08" stroke="#e3e3e3" stroke-width="1.3"/>
<line x1="110" y1="626.97" x2="979" y2="626.97" stroke="#e3e3e3" stroke-width="1.3"/>
<line x1="110" y1="559.86" x2="979" y2="559.86" stroke="#e3e3e3" stroke-width="1.3"/>
<line x1="110" y1="492.75" x2="979" y2="492.75" stroke="#e3e3e3" stroke-width="1.3"/>
<path d="M110 828.3v-8.69M110 459.2v8.69M283.8 828.3v-8.69M283.8 459.2v8.69M457.6 828.3v-8.69M457.6 459.2v8.69M631.4 828.3v-8.69M631.4 459.2v8.69M805.2 828.3v-8.69M805.2 459.2v8.69M979 828.3v-8.69M979 459.2v8.69M110 828.3h8.69M979 828.3h-8.69M110 761.19h8.69M979 761.19h-8.69M110 694.08h8.69M979 694.08h-8.69M110 626.97h8.69M979 626.97h-8.69M110 559.86h8.69M979 559.86h-8.69M110 492.75h8.69M979 492.75h-8.69" stroke="#262626" stroke-width="1.3" fill="none"/>
<rect x="110" y="459.2" width="869" height="369.1" fill="none" stroke="#262626" stroke-width="1.3"/>
<polyline points="110,492.75 114.34,495.54 118.69,498.66 123.03,501.86 127.38,505.09 131.72,508.33 136.07,511.56 140.41,514.76 144.76,517.92 149.1,521.05 153.45,524.13 157.8,527.16 162.14,530.14 166.49,533.08 170.83,535.95 175.18,538.77 179.52,541.54 183.87,544.25 188.21,546.91 192.56,549.5 196.9,552.05 201.25,554.53 205.59,556.96 209.94,559.34 214.28,561.66 218.62,563.93 222.97,566.14 227.31,568.31 231.66,570.42 236,572.48 240.35,574.49 244.69,576.45 249.04,578.36 253.38,580.22 257.73,582.04 262.07,583.81 266.42,585.53 270.76,587.22 275.11,588.86 279.46,590.45 283.8,592.01 288.14,593.52 292.49,595 296.84,596.43 301.18,597.83 305.52,599.19 309.87,600.51 314.22,601.8 318.56,603.06 322.9,604.28 327.25,605.47 331.6,606.62 335.94,607.74 340.28,608.84 344.63,609.9 348.98,610.93 353.32,611.94 357.66,612.91 362.01,613.86 366.36,614.79 370.7,615.69 375.05,616.56 379.39,617.41 383.74,618.23 388.08,619.03 392.43,619.81 396.77,620.57 401.12,621.3 405.46,622.02 409.81,622.71 414.15,623.38 418.5,624.04 422.84,624.67 427.19,625.29 431.53,625.89 435.88,626.47 440.22,627.04 444.56,627.59 448.91,628.12 453.25,628.64 457.6,629.14 461.94,629.63 466.29,630.1 470.63,630.56 474.98,631.01 479.32,631.44 483.67,631.86 488.01,632.27 492.36,632.66 496.7,633.05 501.05,633.42 505.39,633.78 509.74,634.13 514.09,634.47 518.43,634.8 522.77,635.12 527.12,635.44 531.46,635.74 535.81,636.03 540.15,636.31 544.5,636.59 548.85,636.86 553.19,637.11 557.54,637.37 561.88,637.61 566.23,637.85 570.57,638.07 574.91,638.3 579.26,638.51 583.61,638.72 587.95,638.92 592.3,639.12 596.64,639.31 600.99,639.49 605.33,639.67 609.67,639.85 614.02,640.01 618.37,640.18 622.71,640.34 627.05,640.49 631.4,640.64 635.75,640.78 640.09,640.92 644.43,641.05 648.78,641.19 653.12,641.31 657.47,641.44 661.82,641.55 666.16,641.67 670.5,641.78 674.85,641.89 679.2,642 683.54,642.1 687.88,642.2 692.23,642.29 696.58,642.38 700.92,642.47 705.26,642.56 709.61,642.64 713.96,642.73 718.3,642.8 722.64,642.88 726.99,642.96 731.34,643.03 735.68,643.1 740.02,643.16 744.37,643.23 748.72,643.29 753.06,643.35 757.4,643.41 761.75,643.47 766.1,643.53 770.44,643.58 774.78,643.63 779.13,643.68 783.48,643.73 787.82,643.78 792.16,643.82 796.51,643.87 800.86,643.91 805.2,643.95 809.54,643.99 813.89,644.03 818.24,644.07 822.58,644.11 826.92,644.14 831.27,644.18 835.62,644.21 839.96,644.24 844.3,644.27 848.65,644.3 853,644.33 857.34,644.36 861.68,644.39 866.03,644.41 870.38,644.44 874.72,644.46 879.07,644.49 883.41,644.51 887.75,644.53 892.1,644.55 896.45,644.57 900.79,644.59 905.13,644.61 909.48,644.63 913.83,644.65 918.17,644.67 922.51,644.69 926.86,644.7 931.21,644.72 935.55,644.74 939.89,644.75 944.24,644.76 948.59,644.78 952.93,644.79 957.27,644.81 961.62,644.82 965.97,644.83 970.31,644.84 974.65,644.85 979,644.87" fill="none" stroke="#EDB120" stroke-width="4.2" stroke-linejoin="round" stroke-linecap="round"/>
<polyline points="110,492.75 114.34,494.21 118.69,495.77 123.03,497.37 127.38,498.97 131.72,500.57 136.07,502.15 140.41,503.73 144.76,505.29 149.1,506.83 153.45,508.35 157.8,509.85 162.14,511.32 166.49,512.78 170.83,514.21 175.18,515.62 179.52,517 183.87,518.37 188.21,519.7 192.56,521.02 196.9,522.31 201.25,523.58 205.59,524.82 209.94,526.04 214.28,527.24 218.62,528.42 222.97,529.57 227.31,530.7 231.66,531.81 236,532.89 240.35,533.96 244.69,535 249.04,536.02 253.38,537.03 257.73,538.01 262.07,538.97 266.42,539.91 270.76,540.83 275.11,541.74 279.46,542.62 283.8,543.49 288.14,544.34 292.49,545.17 296.84,545.98 301.18,546.77 305.52,547.55 309.87,548.32 314.22,549.06 318.56,549.79 322.9,550.5 327.25,551.2 331.6,551.89 335.94,552.56 340.28,553.21 344.63,553.85 348.98,554.48 353.32,555.09 357.66,555.69 362.01,556.27 366.36,556.85 370.7,557.41 375.05,557.95 379.39,558.49 383.74,559.01 388.08,559.52 392.43,560.03 396.77,560.51 401.12,560.99 405.46,561.46 409.81,561.92 414.15,562.36 418.5,562.8 422.84,563.23 427.19,563.65 431.53,564.05 435.88,564.45 440.22,564.84 444.56,565.22 448.91,565.59 453.25,565.96 457.6,566.31 461.94,566.66 466.29,567 470.63,567.33 474.98,567.65 479.32,567.97 483.67,568.28 488.01,568.58 492.36,568.88 496.7,569.16 501.05,569.45 505.39,569.72 509.74,569.99 514.09,570.25 518.43,570.51 522.77,570.76 527.12,571 531.46,571.24 535.81,571.47 540.15,571.7 544.5,571.92 548.85,572.14 553.19,572.35 557.54,572.56 561.88,572.76 566.23,572.96 570.57,573.15 574.91,573.34 579.26,573.52 583.61,573.7 587.95,573.88 592.3,574.05 596.64,574.22 600.99,574.38 605.33,574.54 609.67,574.7 614.02,574.85 618.37,575 622.71,575.14 627.05,575.28 631.4,575.42 635.75,575.55 640.09,575.69 644.43,575.81 648.78,575.94 653.12,576.06 657.47,576.18 661.82,576.3 666.16,576.41 670.5,576.52 674.85,576.63 679.2,576.74 683.54,576.84 687.88,576.94 692.23,577.04 696.58,577.13 700.92,577.23 705.26,577.32 709.61,577.41 713.96,577.49 718.3,577.58 722.64,577.66 726.99,577.74 731.34,577.82 735.68,577.9 740.02,577.97 744.37,578.05 748.72,578.12 753.06,578.19 757.4,578.26 761.75,578.32 766.1,578.39 770.44,578.45 774.78,578.51 779.13,578.57 783.48,578.63 787.82,578.69 792.16,578.74 796.51,578.8 800.86,578.85 805.2,578.9 809.54,578.95 813.89,579 818.24,579.05 822.58,579.1 826.92,579.14 831.27,579.19 835.62,579.23 839.96,579.27 844.3,579.32 848.65,579.36 853,579.4 857.34,579.43 861.68,579.47 866.03,579.51 870.38,579.54 874.72,579.58 879.07,579.61 883.41,579.65 887.75,579.68 892.1,579.71 896.45,579.74 900.79,579.77 905.13,579.8 909.48,579.83 913.83,579.86 918.17,579.88 922.51,579.91 926.86,579.94 931.21,579.96 935.55,579.99 939.89,580.01 944.24,580.03 948.59,580.06 952.93,580.08 957.27,580.1 961.62,580.12 965.97,580.14 970.31,580.16 974.65,580.18 979,580.2" fill="none" stroke="#0000FF" stroke-width="5.2" stroke-linejoin="round" stroke-linecap="round"/>
<g opacity="0.95"><polyline points="110,492.75 114.34,493.35 118.69,493.93 123.03,494.5 127.38,495.07 131.72,495.63 136.07,496.18 140.41,496.72 144.76,497.25 149.1,497.77 153.45,498.29 157.8,498.79 162.14,499.29 166.49,499.79 170.83,500.27 175.18,500.75 179.52,501.22 183.87,501.68 188.21,502.14 192.56,502.59 196.9,503.03 201.25,503.46 205.59,503.89 209.94,504.31 214.28,504.73 218.62,505.14 222.97,505.54 227.31,505.94 231.66,506.33 236,506.71 240.35,507.09 244.69,507.46 249.04,507.83 253.38,508.19 257.73,508.55 262.07,508.9 266.42,509.25 270.76,509.59 275.11,509.92 279.46,510.25 283.8,510.57 288.14,510.89 292.49,511.21 296.84,511.52 301.18,511.82 305.52,512.12 309.87,512.42 314.22,512.71 318.56,513 322.9,513.28 327.25,513.56 331.6,513.83 335.94,514.1 340.28,514.37 344.63,514.63 348.98,514.89 353.32,515.14 357.66,515.39 362.01,515.64 366.36,515.88 370.7,516.12 375.05,516.35 379.39,516.58 383.74,516.81 388.08,517.03 392.43,517.25 396.77,517.47 401.12,517.69 405.46,517.9 409.81,518.1 414.15,518.31 418.5,518.51 422.84,518.71 427.19,518.9 431.53,519.09 435.88,519.28 440.22,519.47 444.56,519.65 448.91,519.83 453.25,520.01 457.6,520.19 461.94,520.36 466.29,520.53 470.63,520.7 474.98,520.86 479.32,521.02 483.67,521.18 488.01,521.34 492.36,521.49 496.7,521.65 501.05,521.8 505.39,521.94 509.74,522.09 514.09,522.23 518.43,522.37 522.77,522.51 527.12,522.65 531.46,522.78 535.81,522.92 540.15,523.05 544.5,523.18 548.85,523.3 553.19,523.43 557.54,523.55 561.88,523.67 566.23,523.79 570.57,523.91 574.91,524.02 579.26,524.14 583.61,524.25 587.95,524.36 592.3,524.47 596.64,524.57 600.99,524.68 605.33,524.78 609.67,524.88 614.02,524.98 618.37,525.08 622.71,525.18 627.05,525.28 631.4,525.37 635.75,525.46 640.09,525.56 644.43,525.65 648.78,525.73 653.12,525.82 657.47,525.91 661.82,525.99 666.16,526.08 670.5,526.16 674.85,526.24 679.2,526.32 683.54,526.4 687.88,526.47 692.23,526.55 696.58,526.63 700.92,526.7 705.26,526.77 709.61,526.84 713.96,526.91 718.3,526.98 722.64,527.05 726.99,527.12 731.34,527.19 735.68,527.25 740.02,527.31 744.37,527.38 748.72,527.44 753.06,527.5 757.4,527.56 761.75,527.62 766.1,527.68 770.44,527.74 774.78,527.79 779.13,527.85 783.48,527.9 787.82,527.96 792.16,528.01 796.51,528.06 800.86,528.12 805.2,528.17 809.54,528.22 813.89,528.27 818.24,528.32 822.58,528.36 826.92,528.41 831.27,528.46 835.62,528.5 839.96,528.55 844.3,528.59 848.65,528.64 853,528.68 857.34,528.72 861.68,528.76 866.03,528.8 870.38,528.84 874.72,528.88 879.07,528.92 883.41,528.96 887.75,529 892.1,529.04 896.45,529.07 900.79,529.11 905.13,529.15 909.48,529.18 913.83,529.22 918.17,529.25 922.51,529.28 926.86,529.32 931.21,529.35 935.55,529.38 939.89,529.41 944.24,529.44 948.59,529.47 952.93,529.5 957.27,529.53 961.62,529.56 965.97,529.59 970.31,529.62 974.65,529.65 979,529.68" fill="none" stroke="#77AC30" stroke-width="0.8" stroke-opacity="0.6"/>
<path d="M104.4 487.15l11.2 11.2M104.4 498.35l11.2 -11.2M108.75 487.75l11.2 11.2M108.75 498.95l11.2 -11.2M113.09 488.33l11.2 11.2M113.09 499.53l11.2 -11.2M117.44 488.9l11.2 11.2M117.44 500.1l11.2 -11.2M121.78 489.47l11.2 11.2M121.78 500.67l11.2 -11.2M126.12 490.03l11.2 11.2M126.12 501.23l11.2 -11.2M130.47 490.58l11.2 11.2M130.47 501.78l11.2 -11.2M134.81 491.12l11.2 11.2M134.81 502.32l11.2 -11.2M139.16 491.65l11.2 11.2M139.16 502.85l11.2 -11.2M143.5 492.17l11.2 11.2M143.5 503.37l11.2 -11.2M147.85 492.69l11.2 11.2M147.85 503.89l11.2 -11.2M152.2 493.19l11.2 11.2M152.2 504.39l11.2 -11.2M156.54 493.69l11.2 11.2M156.54 504.89l11.2 -11.2M160.89 494.19l11.2 11.2M160.89 505.39l11.2 -11.2M165.23 494.67l11.2 11.2M165.23 505.87l11.2 -11.2M169.58 495.15l11.2 11.2M169.58 506.35l11.2 -11.2M173.92 495.62l11.2 11.2M173.92 506.82l11.2 -11.2M178.27 496.08l11.2 11.2M178.27 507.28l11.2 -11.2M182.61 496.54l11.2 11.2M182.61 507.74l11.2 -11.2M186.96 496.99l11.2 11.2M186.96 508.19l11.2 -11.2M191.3 497.43l11.2 11.2M191.3 508.63l11.2 -11.2M195.65 497.86l11.2 11.2M195.65 509.06l11.2 -11.2M199.99 498.29l11.2 11.2M199.99 509.49l11.2 -11.2M204.34 498.71l11.2 11.2M204.34 509.91l11.2 -11.2M208.68 499.13l11.2 11.2M208.68 510.33l11.2 -11.2M213.03 499.54l11.2 11.2M213.03 510.74l11.2 -11.2M217.37 499.94l11.2 11.2M217.37 511.14l11.2 -11.2M221.72 500.34l11.2 11.2M221.72 511.54l11.2 -11.2M226.06 500.73l11.2 11.2M226.06 511.93l11.2 -11.2M230.41 501.11l11.2 11.2M230.41 512.31l11.2 -11.2M234.75 501.49l11.2 11.2M234.75 512.69l11.2 -11.2M239.09 501.86l11.2 11.2M239.09 513.06l11.2 -11.2M243.44 502.23l11.2 11.2M243.44 513.43l11.2 -11.2M247.78 502.59l11.2 11.2M247.78 513.79l11.2 -11.2M252.13 502.95l11.2 11.2M252.13 514.15l11.2 -11.2M256.47 503.3l11.2 11.2M256.47 514.5l11.2 -11.2M260.82 503.65l11.2 11.2M260.82 514.85l11.2 -11.2M265.16 503.99l11.2 11.2M265.16 515.19l11.2 -11.2M269.51 504.32l11.2 11.2M269.51 515.52l11.2 -11.2M273.86 504.65l11.2 11.2M273.86 515.85l11.2 -11.2M278.2 504.97l11.2 11.2M278.2 516.17l11.2 -11.2M282.54 505.29l11.2 11.2M282.54 516.49l11.2 -11.2M286.89 505.61l11.2 11.2M286.89 516.81l11.2 -11.2M291.24 505.92l11.2 11.2M291.24 517.12l11.2 -11.2M295.58 506.22l11.2 11.2M295.58 517.42l11.2 -11.2M299.92 506.52l11.2 11.2M299.92 517.72l11.2 -11.2M304.27 506.82l11.2 11.2M304.27 518.02l11.2 -11.2M308.62 507.11l11.2 11.2M308.62 518.31l11.2 -11.2M312.96 507.4l11.2 11.2M312.96 518.6l11.2 -11.2M317.3 507.68l11.2 11.2M317.3 518.88l11.2 -11.2M321.65 507.96l11.2 11.2M321.65 519.16l11.2 -11.2M326 508.23l11.2 11.2M326 519.43l11.2 -11.2M330.34 508.5l11.2 11.2M330.34 519.7l11.2 -11.2M334.68 508.77l11.2 11.2M334.68 519.97l11.2 -11.2M339.03 509.03l11.2 11.2M339.03 520.23l11.2 -11.2M343.38 509.29l11.2 11.2M343.38 520.49l11.2 -11.2M347.72 509.54l11.2 11.2M347.72 520.74l11.2 -11.2M352.06 509.79l11.2 11.2M352.06 520.99l11.2 -11.2M356.41 510.04l11.2 11.2M356.41 521.24l11.2 -11.2M360.75 510.28l11.2 11.2M360.75 521.48l11.2 -11.2M365.1 510.52l11.2 11.2M365.1 521.72l11.2 -11.2M369.44 510.75l11.2 11.2M369.44 521.95l11.2 -11.2M373.79 510.98l11.2 11.2M373.79 522.18l11.2 -11.2M378.13 511.21l11.2 11.2M378.13 522.41l11.2 -11.2M382.48 511.43l11.2 11.2M382.48 522.63l11.2 -11.2M386.82 511.65l11.2 11.2M386.82 522.85l11.2 -11.2M391.17 511.87l11.2 11.2M391.17 523.07l11.2 -11.2M395.51 512.09l11.2 11.2M395.51 523.29l11.2 -11.2M399.86 512.3l11.2 11.2M399.86 523.5l11.2 -11.2M404.2 512.5l11.2 11.2M404.2 523.7l11.2 -11.2M408.55 512.71l11.2 11.2M408.55 523.91l11.2 -11.2M412.89 512.91l11.2 11.2M412.89 524.11l11.2 -11.2M417.24 513.11l11.2 11.2M417.24 524.31l11.2 -11.2M421.58 513.3l11.2 11.2M421.58 524.5l11.2 -11.2M425.93 513.49l11.2 11.2M425.93 524.69l11.2 -11.2M430.27 513.68l11.2 11.2M430.27 524.88l11.2 -11.2M434.62 513.87l11.2 11.2M434.62 525.07l11.2 -11.2M438.96 514.05l11.2 11.2M438.96 525.25l11.2 -11.2M443.31 514.23l11.2 11.2M443.31 525.43l11.2 -11.2M447.65 514.41l11.2 11.2M447.65 525.61l11.2 -11.2M452 514.59l11.2 11.2M452 525.79l11.2 -11.2M456.34 514.76l11.2 11.2M456.34 525.96l11.2 -11.2M460.69 514.93l11.2 11.2M460.69 526.13l11.2 -11.2M465.03 515.1l11.2 11.2M465.03 526.3l11.2 -11.2M469.38 515.26l11.2 11.2M469.38 526.46l11.2 -11.2M473.72 515.42l11.2 11.2M473.72 526.62l11.2 -11.2M478.07 515.58l11.2 11.2M478.07 526.78l11.2 -11.2M482.41 515.74l11.2 11.2M482.41 526.94l11.2 -11.2M486.76 515.89l11.2 11.2M486.76 527.09l11.2 -11.2M491.1 516.05l11.2 11.2M491.1 527.25l11.2 -11.2M495.45 516.2l11.2 11.2M495.45 527.4l11.2 -11.2M499.79 516.34l11.2 11.2M499.79 527.54l11.2 -11.2M504.14 516.49l11.2 11.2M504.14 527.69l11.2 -11.2M508.49 516.63l11.2 11.2M508.49 527.83l11.2 -11.2M512.83 516.77l11.2 11.2M512.83 527.97l11.2 -11.2M517.17 516.91l11.2 11.2M517.17 528.11l11.2 -11.2M521.52 517.05l11.2 11.2M521.52 528.25l11.2 -11.2M525.86 517.18l11.2 11.2M525.86 528.38l11.2 -11.2M530.21 517.32l11.2 11.2M530.21 528.52l11.2 -11.2M534.55 517.45l11.2 11.2M534.55 528.65l11.2 -11.2M538.9 517.58l11.2 11.2M538.9 528.78l11.2 -11.2M543.25 517.7l11.2 11.2M543.25 528.9l11.2 -11.2M547.59 517.83l11.2 11.2M547.59 529.03l11.2 -11.2M551.94 517.95l11.2 11.2M551.94 529.15l11.2 -11.2M556.28 518.07l11.2 11.2M556.28 529.27l11.2 -11.2M560.62 518.19l11.2 11.2M560.62 529.39l11.2 -11.2M564.97 518.31l11.2 11.2M564.97 529.51l11.2 -11.2M569.31 518.42l11.2 11.2M569.31 529.62l11.2 -11.2M573.66 518.54l11.2 11.2M573.66 529.74l11.2 -11.2M578 518.65l11.2 11.2M578 529.85l11.2 -11.2M582.35 518.76l11.2 11.2M582.35 529.96l11.2 -11.2M586.7 518.87l11.2 11.2M586.7 530.07l11.2 -11.2M591.04 518.97l11.2 11.2M591.04 530.17l11.2 -11.2M595.38 519.08l11.2 11.2M595.38 530.28l11.2 -11.2M599.73 519.18l11.2 11.2M599.73 530.38l11.2 -11.2M604.07 519.28l11.2 11.2M604.07 530.48l11.2 -11.2M608.42 519.38l11.2 11.2M608.42 530.58l11.2 -11.2M612.76 519.48l11.2 11.2M612.76 530.68l11.2 -11.2M617.11 519.58l11.2 11.2M617.11 530.78l11.2 -11.2M621.45 519.68l11.2 11.2M621.45 530.88l11.2 -11.2M625.8 519.77l11.2 11.2M625.8 530.97l11.2 -11.2M630.14 519.86l11.2 11.2M630.14 531.06l11.2 -11.2M634.49 519.96l11.2 11.2M634.49 531.16l11.2 -11.2M638.83 520.05l11.2 11.2M638.83 531.25l11.2 -11.2M643.18 520.13l11.2 11.2M643.18 531.33l11.2 -11.2M647.52 520.22l11.2 11.2M647.52 531.42l11.2 -11.2M651.87 520.31l11.2 11.2M651.87 531.51l11.2 -11.2M656.22 520.39l11.2 11.2M656.22 531.59l11.2 -11.2M660.56 520.48l11.2 11.2M660.56 531.68l11.2 -11.2M664.9 520.56l11.2 11.2M664.9 531.76l11.2 -11.2M669.25 520.64l11.2 11.2M669.25 531.84l11.2 -11.2M673.6 520.72l11.2 11.2M673.6 531.92l11.2 -11.2M677.94 520.8l11.2 11.2M677.94 532l11.2 -11.2M682.28 520.87l11.2 11.2M682.28 532.07l11.2 -11.2M686.63 520.95l11.2 11.2M686.63 532.15l11.2 -11.2M690.98 521.03l11.2 11.2M690.98 532.23l11.2 -11.2M695.32 521.1l11.2 11.2M695.32 532.3l11.2 -11.2M699.66 521.17l11.2 11.2M699.66 532.37l11.2 -11.2M704.01 521.24l11.2 11.2M704.01 532.44l11.2 -11.2M708.36 521.31l11.2 11.2M708.36 532.51l11.2 -11.2M712.7 521.38l11.2 11.2M712.7 532.58l11.2 -11.2M717.04 521.45l11.2 11.2M717.04 532.65l11.2 -11.2M721.39 521.52l11.2 11.2M721.39 532.72l11.2 -11.2M725.74 521.59l11.2 11.2M725.74 532.79l11.2 -11.2M730.08 521.65l11.2 11.2M730.08 532.85l11.2 -11.2M734.42 521.71l11.2 11.2M734.42 532.91l11.2 -11.2M738.77 521.78l11.2 11.2M738.77 532.98l11.2 -11.2M743.12 521.84l11.2 11.2M743.12 533.04l11.2 -11.2M747.46 521.9l11.2 11.2M747.46 533.1l11.2 -11.2M751.8 521.96l11.2 11.2M751.8 533.16l11.2 -11.2M756.15 522.02l11.2 11.2M756.15 533.22l11.2 -11.2M760.5 522.08l11.2 11.2M760.5 533.28l11.2 -11.2M764.84 522.14l11.2 11.2M764.84 533.34l11.2 -11.2M769.18 522.19l11.2 11.2M769.18 533.39l11.2 -11.2M773.53 522.25l11.2 11.2M773.53 533.45l11.2 -11.2M777.88 522.3l11.2 11.2M777.88 533.5l11.2 -11.2M782.22 522.36l11.2 11.2M782.22 533.56l11.2 -11.2M786.56 522.41l11.2 11.2M786.56 533.61l11.2 -11.2M790.91 522.46l11.2 11.2M790.91 533.66l11.2 -11.2M795.25 522.52l11.2 11.2M795.25 533.72l11.2 -11.2M799.6 522.57l11.2 11.2M799.6 533.77l11.2 -11.2M803.94 522.62l11.2 11.2M803.94 533.82l11.2 -11.2M808.29 522.67l11.2 11.2M808.29 533.87l11.2 -11.2M812.63 522.72l11.2 11.2M812.63 533.92l11.2 -11.2M816.98 522.76l11.2 11.2M816.98 533.96l11.2 -11.2M821.32 522.81l11.2 11.2M821.32 534.01l11.2 -11.2M825.67 522.86l11.2 11.2M825.67 534.06l11.2 -11.2M830.01 522.9l11.2 11.2M830.01 534.1l11.2 -11.2M834.36 522.95l11.2 11.2M834.36 534.15l11.2 -11.2M838.7 522.99l11.2 11.2M838.7 534.19l11.2 -11.2M843.05 523.04l11.2 11.2M843.05 534.24l11.2 -11.2M847.39 523.08l11.2 11.2M847.39 534.28l11.2 -11.2M851.74 523.12l11.2 11.2M851.74 534.32l11.2 -11.2M856.08 523.16l11.2 11.2M856.08 534.36l11.2 -11.2M860.43 523.2l11.2 11.2M860.43 534.4l11.2 -11.2M864.77 523.24l11.2 11.2M864.77 534.44l11.2 -11.2M869.12 523.28l11.2 11.2M869.12 534.48l11.2 -11.2M873.47 523.32l11.2 11.2M873.47 534.52l11.2 -11.2M877.81 523.36l11.2 11.2M877.81 534.56l11.2 -11.2M882.15 523.4l11.2 11.2M882.15 534.6l11.2 -11.2M886.5 523.44l11.2 11.2M886.5 534.64l11.2 -11.2M890.85 523.47l11.2 11.2M890.85 534.67l11.2 -11.2M895.19 523.51l11.2 11.2M895.19 534.71l11.2 -11.2M899.53 523.55l11.2 11.2M899.53 534.75l11.2 -11.2M903.88 523.58l11.2 11.2M903.88 534.78l11.2 -11.2M908.23 523.62l11.2 11.2M908.23 534.82l11.2 -11.2M912.57 523.65l11.2 11.2M912.57 534.85l11.2 -11.2M916.91 523.68l11.2 11.2M916.91 534.88l11.2 -11.2M921.26 523.72l11.2 11.2M921.26 534.92l11.2 -11.2M925.61 523.75l11.2 11.2M925.61 534.95l11.2 -11.2M929.95 523.78l11.2 11.2M929.95 534.98l11.2 -11.2M934.29 523.81l11.2 11.2M934.29 535.01l11.2 -11.2M938.64 523.84l11.2 11.2M938.64 535.04l11.2 -11.2M942.99 523.87l11.2 11.2M942.99 535.07l11.2 -11.2M947.33 523.9l11.2 11.2M947.33 535.1l11.2 -11.2M951.67 523.93l11.2 11.2M951.67 535.13l11.2 -11.2M956.02 523.96l11.2 11.2M956.02 535.16l11.2 -11.2M960.37 523.99l11.2 11.2M960.37 535.19l11.2 -11.2M964.71 524.02l11.2 11.2M964.71 535.22l11.2 -11.2M969.05 524.05l11.2 11.2M969.05 535.25l11.2 -11.2M973.4 524.08l11.2 11.2M973.4 535.28l11.2 -11.2" fill="none" stroke="#77AC30" stroke-width="0.8"/></g>
<polyline points="110,492.75 114.34,492.83 118.69,492.91 123.03,492.98 127.38,493.06 131.72,493.13 136.07,493.2 140.41,493.27 144.76,493.34 149.1,493.41 153.45,493.48 157.8,493.55 162.14,493.61 166.49,493.68 170.83,493.74 175.18,493.81 179.52,493.87 183.87,493.93 188.21,493.99 192.56,494.05 196.9,494.11 201.25,494.17 205.59,494.23 209.94,494.29 214.28,494.34 218.62,494.4 222.97,494.46 227.31,494.51 231.66,494.56 236,494.62 240.35,494.67 244.69,494.72 249.04,494.77 253.38,494.82 257.73,494.87 262.07,494.92 266.42,494.97 270.76,495.02 275.11,495.07 279.46,495.11 283.8,495.16 288.14,495.2 292.49,495.25 296.84,495.29 301.18,495.34 305.52,495.38 309.87,495.42 314.22,495.46 318.56,495.5 322.9,495.54 327.25,495.59 331.6,495.62 335.94,495.66 340.28,495.7 344.63,495.74 348.98,495.78 353.32,495.82 357.66,495.85 362.01,495.89 366.36,495.92 370.7,495.96 375.05,496 379.39,496.03 383.74,496.06 388.08,496.1 392.43,496.13 396.77,496.16 401.12,496.19 405.46,496.23 409.81,496.26 414.15,496.29 418.5,496.32 422.84,496.35 427.19,496.38 431.53,496.41 435.88,496.44 440.22,496.47 444.56,496.49 448.91,496.52 453.25,496.55 457.6,496.58 461.94,496.6 466.29,496.63 470.63,496.66 474.98,496.68 479.32,496.71 483.67,496.73 488.01,496.76 492.36,496.78 496.7,496.81 501.05,496.83 505.39,496.85 509.74,496.88 514.09,496.9 518.43,496.92 522.77,496.94 527.12,496.97 531.46,496.99 535.81,497.01 540.15,497.03 544.5,497.05 548.85,497.07 553.19,497.09 557.54,497.11 561.88,497.13 566.23,497.15 570.57,497.17 574.91,497.19 579.26,497.21 583.61,497.23 587.95,497.25 592.3,497.26 596.64,497.28 600.99,497.3 605.33,497.32 609.67,497.33 614.02,497.35 618.37,497.37 622.71,497.38 627.05,497.4 631.4,497.42 635.75,497.43 640.09,497.45 644.43,497.46 648.78,497.48 653.12,497.49 657.47,497.51 661.82,497.52 666.16,497.54 670.5,497.55 674.85,497.57 679.2,497.58 683.54,497.59 687.88,497.61 692.23,497.62 696.58,497.63 700.92,497.65 705.26,497.66 709.61,497.67 713.96,497.68 718.3,497.7 722.64,497.71 726.99,497.72 731.34,497.73 735.68,497.74 740.02,497.76 744.37,497.77 748.72,497.78 753.06,497.79 757.4,497.8 761.75,497.81 766.1,497.82 770.44,497.83 774.78,497.84 779.13,497.85 783.48,497.86 787.82,497.87 792.16,497.88 796.51,497.89 800.86,497.9 805.2,497.91 809.54,497.92 813.89,497.93 818.24,497.94 822.58,497.95 826.92,497.96 831.27,497.97 835.62,497.97 839.96,497.98 844.3,497.99 848.65,498 853,498.01 857.34,498.02 861.68,498.02 866.03,498.03 870.38,498.04 874.72,498.05 879.07,498.05 883.41,498.06 887.75,498.07 892.1,498.08 896.45,498.08 900.79,498.09 905.13,498.1 909.48,498.1 913.83,498.11 918.17,498.12 922.51,498.13 926.86,498.13 931.21,498.14 935.55,498.14 939.89,498.15 944.24,498.16 948.59,498.16 952.93,498.17 957.27,498.18 961.62,498.18 965.97,498.19 970.31,498.19 974.65,498.2 979,498.2" fill="none" stroke="#FF0000" stroke-width="5.8" stroke-linejoin="round" stroke-dasharray="24 6 12 6"/>
<polyline points="110,492.75 114.34,492.75 118.69,492.75 123.03,492.75 127.38,492.75 131.72,492.75 136.07,492.75 140.41,492.75 144.76,492.75 149.1,492.75 153.45,492.75 157.8,492.75 162.14,492.75 166.49,492.75 170.83,492.75 175.18,492.75 179.52,492.75 183.87,492.75 188.21,492.75 192.56,492.75 196.9,492.75 201.25,492.75 205.59,492.75 209.94,492.75 214.28,492.75 218.62,492.75 222.97,492.75 227.31,492.75 231.66,492.75 236,492.75 240.35,492.75 244.69,492.75 249.04,492.75 253.38,492.75 257.73,492.75 262.07,492.75 266.42,492.75 270.76,492.75 275.11,492.75 279.46,492.75 283.8,492.75 288.14,492.75 292.49,492.75 296.84,492.75 301.18,492.75 305.52,492.75 309.87,492.75 314.22,492.75 318.56,492.75 322.9,492.75 327.25,492.75 331.6,492.75 335.94,492.75 340.28,492.75 344.63,492.75 348.98,492.75 353.32,492.75 357.66,492.75 362.01,492.75 366.36,492.75 370.7,492.75 375.05,492.75 379.39,492.75 383.74,492.75 388.08,492.75 392.43,492.75 396.77,492.75 401.12,492.75 405.46,492.75 409.81,492.75 414.15,492.75 418.5,492.75 422.84,492.75 427.19,492.75 431.53,492.75 435.88,492.75 440.22,492.75 444.56,492.75 448.91,492.75 453.25,492.75 457.6,492.75 461.94,492.75 466.29,492.75 470.63,492.75 474.98,492.75 479.32,492.75 483.67,492.75 488.01,492.75 492.36,492.75 496.7,492.75 501.05,492.75 505.39,492.75 509.74,492.75 514.09,492.75 518.43,492.75 522.77,492.75 527.12,492.75 531.46,492.75 535.81,492.75 540.15,492.75 544.5,492.75 548.85,492.75 553.19,492.75 557.54,492.75 561.88,492.75 566.23,492.75 570.57,492.75 574.91,492.75 579.26,492.75 583.61,492.75 587.95,492.75 592.3,492.75 596.64,492.75 600.99,492.75 605.33,492.75 609.67,492.75 614.02,492.75 618.37,492.75 622.71,492.75 627.05,492.75 631.4,492.75 635.75,492.75 640.09,492.75 644.43,492.75 648.78,492.75 653.12,492.75 657.47,492.75 661.82,492.75 666.16,492.75 670.5,492.75 674.85,492.75 679.2,492.75 683.54,492.75 687.88,492.75 692.23,492.75 696.58,492.75 700.92,492.75 705.26,492.75 709.61,492.75 713.96,492.75 718.3,492.75 722.64,492.75 726.99,492.75 731.34,492.75 735.68,492.75 740.02,492.75 744.37,492.75 748.72,492.75 753.06,492.75 757.4,492.75 761.75,492.75 766.1,492.75 770.44,492.75 774.78,492.75 779.13,492.75 783.48,492.75 787.82,492.75 792.16,492.75 796.51,492.75 800.86,492.75 805.2,492.75 809.54,492.75 813.89,492.75 818.24,492.75 822.58,492.75 826.92,492.75 831.27,492.75 835.62,492.75 839.96,492.75 844.3,492.75 848.65,492.75 853,492.75 857.34,492.75 861.68,492.75 866.03,492.75 870.38,492.75 874.72,492.75 879.07,492.75 883.41,492.75 887.75,492.75 892.1,492.75 896.45,492.75 900.79,492.75 905.13,492.75 909.48,492.75 913.83,492.75 918.17,492.75 922.51,492.75 926.86,492.75 931.21,492.75 935.55,492.75 939.89,492.75 944.24,492.75 948.59,492.75 952.93,492.75 957.27,492.75 961.62,492.75 965.97,492.75 970.31,492.75 974.65,492.75 979,492.75" fill="none" stroke="#000000" stroke-width="4.0" stroke-linejoin="round" stroke-dasharray="14.5 14.5"/>
<text x="110" y="871.8" text-anchor="middle" class="tk">0</text>
<text x="283.8" y="871.8" text-anchor="middle" class="tk">20</text>
<text x="457.6" y="871.8" text-anchor="middle" class="tk">40</text>
<text x="631.4" y="871.8" text-anchor="middle" class="tk">60</text>
<text x="805.2" y="871.8" text-anchor="middle" class="tk">80</text>
<text x="979" y="871.8" text-anchor="middle" class="tk">100</text>
<text x="98.5" y="840.8" text-anchor="end" class="tk">0</text>
<text x="98.5" y="773.69" text-anchor="end" class="tk">0.2</text>
<text x="98.5" y="706.58" text-anchor="end" class="tk">0.4</text>
<text x="98.5" y="639.47" text-anchor="end" class="tk">0.6</text>
<text x="98.5" y="572.36" text-anchor="end" class="tk">0.8</text>
<text x="98.5" y="505.25" text-anchor="end" class="tk">1</text>
<line x1="1091" y1="827.5" x2="1965.9" y2="827.5" stroke="#e3e3e3" stroke-width="1.3"/>
<line x1="1091" y1="760.23" x2="1965.9" y2="760.23" stroke="#e3e3e3" stroke-width="1.3"/>
<line x1="1091" y1="692.95" x2="1965.9" y2="692.95" stroke="#e3e3e3" stroke-width="1.3"/>
<line x1="1091" y1="625.68" x2="1965.9" y2="625.68" stroke="#e3e3e3" stroke-width="1.3"/>
<line x1="1091" y1="558.41" x2="1965.9" y2="558.41" stroke="#e3e3e3" stroke-width="1.3"/>
<line x1="1091" y1="491.14" x2="1965.9" y2="491.14" stroke="#e3e3e3" stroke-width="1.3"/>
<path d="M1091 827.5v-8.75M1091 457.5v8.75M1200.36 827.5v-8.75M1200.36 457.5v8.75M1309.72 827.5v-8.75M1309.72 457.5v8.75M1419.09 827.5v-8.75M1419.09 457.5v8.75M1528.45 827.5v-8.75M1528.45 457.5v8.75M1637.81 827.5v-8.75M1637.81 457.5v8.75M1747.18 827.5v-8.75M1747.18 457.5v8.75M1856.54 827.5v-8.75M1856.54 457.5v8.75M1965.9 827.5v-8.75M1965.9 457.5v8.75M1091 827.5h8.75M1965.9 827.5h-8.75M1091 760.23h8.75M1965.9 760.23h-8.75M1091 692.95h8.75M1965.9 692.95h-8.75M1091 625.68h8.75M1965.9 625.68h-8.75M1091 558.41h8.75M1965.9 558.41h-8.75M1091 491.14h8.75M1965.9 491.14h-8.75" stroke="#262626" stroke-width="1.3" fill="none"/>
<rect x="1091" y="457.5" width="874.9" height="370" fill="none" stroke="#262626" stroke-width="1.3"/>
<polyline points="1091,491.14 1096.47,521.13 1101.94,550.58 1107.4,579.5 1112.87,607.88 1118.34,635.73 1123.81,663.05 1129.28,689.83 1134.74,716.08 1140.21,741.79 1145.68,766.97 1151.15,791.62 1156.62,815.72 1162.09,827.5 1167.55,827.5 1173.02,827.5 1178.49,827.5 1183.96,827.5 1189.43,827.5 1194.89,827.5 1200.36,827.5 1205.83,827.5 1211.3,827.5 1216.77,827.5 1222.24,827.5 1227.7,827.5 1233.17,827.5 1238.64,827.5 1244.11,827.5 1249.58,827.5 1255.04,827.5 1260.51,827.5 1265.98,827.5 1271.45,827.5 1276.92,827.5 1282.38,827.5 1287.85,827.5 1293.32,827.5 1298.79,827.5 1304.26,827.5 1309.72,827.5 1315.19,827.5 1320.66,827.5 1326.13,827.5 1331.6,827.5 1337.07,827.5 1342.53,827.5 1348,827.5 1353.47,827.5 1358.94,827.5 1364.41,827.5 1369.87,827.5 1375.34,827.5 1380.81,827.5 1386.28,827.5 1391.75,827.5 1397.22,827.5 1402.68,827.5 1408.15,827.5 1413.62,827.5 1419.09,827.5 1424.56,827.5 1430.02,827.5 1435.49,827.5 1440.96,827.5 1446.43,827.5 1451.9,827.5 1457.36,827.5 1462.83,827.5 1468.3,827.5 1473.77,827.5 1479.24,827.5 1484.7,827.5 1490.17,827.5 1495.64,827.5 1501.11,827.5 1506.58,827.5 1512.05,827.5 1517.51,827.5 1522.98,827.5 1528.45,827.5 1533.92,827.5 1539.39,827.5 1544.85,827.5 1550.32,827.5 1555.79,827.5 1561.26,827.5 1566.73,827.5 1572.2,827.5 1577.66,827.5 1583.13,827.5 1588.6,827.5 1594.07,827.5 1599.54,827.5 1605,827.5 1610.47,827.5 1615.94,827.5 1621.41,827.5 1626.88,827.5 1632.34,827.5 1637.81,827.5 1643.28,827.5 1648.75,827.5 1654.22,827.5 1659.68,827.5 1665.15,827.5 1670.62,827.5 1676.09,827.5 1681.56,827.5 1687.03,827.5 1692.49,827.5 1697.96,827.5 1703.43,827.5 1708.9,827.5 1714.37,827.5 1719.83,827.5 1725.3,827.5 1730.77,827.5 1736.24,827.5 1741.71,827.5 1747.18,827.5 1752.64,827.5 1758.11,827.5 1763.58,827.5 1769.05,827.5 1774.52,827.5 1779.98,827.5 1785.45,827.5 1790.92,827.5 1796.39,827.5 1801.86,827.5 1807.32,827.5 1812.79,827.5 1818.26,827.5 1823.73,827.5 1829.2,827.5 1834.66,827.5 1840.13,827.5 1845.6,827.5 1851.07,827.5 1856.54,827.5 1862.01,827.5 1867.47,827.5 1872.94,827.5 1878.41,827.5 1883.88,827.5 1889.35,827.5 1894.81,827.5 1900.28,827.5 1905.75,827.5 1911.22,827.5 1916.69,827.5 1922.16,827.5 1927.62,827.5 1933.09,827.5 1938.56,827.5 1944.03,827.5 1949.5,827.5 1954.96,827.5 1960.43,827.5 1965.9,827.5" fill="none" stroke="#EDB120" stroke-width="4.2" stroke-linejoin="round" stroke-linecap="round"/>
<polyline points="1091,491.14 1096.47,512.05 1101.94,532.62 1107.4,552.83 1112.87,572.69 1118.34,592.21 1123.81,611.37 1129.28,630.18 1134.74,648.64 1140.21,666.75 1145.68,684.51 1151.15,701.92 1156.62,718.98 1162.09,735.69 1167.55,752.05 1173.02,768.06 1178.49,783.71 1183.96,799.02 1189.43,813.98 1194.89,827.5 1200.36,827.5 1205.83,827.5 1211.3,827.5 1216.77,827.5 1222.24,827.5 1227.7,827.5 1233.17,827.5 1238.64,827.5 1244.11,827.5 1249.58,827.5 1255.04,827.5 1260.51,827.5 1265.98,827.5 1271.45,827.5 1276.92,827.5 1282.38,827.5 1287.85,827.5 1293.32,827.5 1298.79,827.5 1304.26,827.5 1309.72,827.5 1315.19,827.5 1320.66,827.5 1326.13,827.5 1331.6,827.5 1337.07,827.5 1342.53,827.5 1348,827.5 1353.47,827.5 1358.94,827.5 1364.41,827.5 1369.87,827.5 1375.34,827.5 1380.81,827.5 1386.28,827.5 1391.75,827.5 1397.22,827.5 1402.68,827.5 1408.15,827.5 1413.62,827.5 1419.09,827.5 1424.56,827.5 1430.02,827.5 1435.49,827.5 1440.96,827.5 1446.43,827.5 1451.9,827.5 1457.36,827.5 1462.83,827.5 1468.3,827.5 1473.77,827.5 1479.24,827.5 1484.7,827.5 1490.17,827.5 1495.64,827.5 1501.11,827.5 1506.58,827.5 1512.05,827.5 1517.51,827.5 1522.98,827.5 1528.45,827.5 1533.92,827.5 1539.39,827.5 1544.85,827.5 1550.32,827.5 1555.79,827.5 1561.26,827.5 1566.73,827.5 1572.2,827.5 1577.66,827.5 1583.13,827.5 1588.6,827.5 1594.07,827.5 1599.54,827.5 1605,827.5 1610.47,827.5 1615.94,827.5 1621.41,827.5 1626.88,827.5 1632.34,827.5 1637.81,827.5 1643.28,827.5 1648.75,827.5 1654.22,827.5 1659.68,827.5 1665.15,827.5 1670.62,827.5 1676.09,827.5 1681.56,827.5 1687.03,827.5 1692.49,827.5 1697.96,827.5 1703.43,827.5 1708.9,827.5 1714.37,827.5 1719.83,827.5 1725.3,827.5 1730.77,827.5 1736.24,827.5 1741.71,827.5 1747.18,827.5 1752.64,827.5 1758.11,827.5 1763.58,827.5 1769.05,827.5 1774.52,827.5 1779.98,827.5 1785.45,827.5 1790.92,827.5 1796.39,827.5 1801.86,827.5 1807.32,827.5 1812.79,827.5 1818.26,827.5 1823.73,827.5 1829.2,827.5 1834.66,827.5 1840.13,827.5 1845.6,827.5 1851.07,827.5 1856.54,827.5 1862.01,827.5 1867.47,827.5 1872.94,827.5 1878.41,827.5 1883.88,827.5 1889.35,827.5 1894.81,827.5 1900.28,827.5 1905.75,827.5 1911.22,827.5 1916.69,827.5 1922.16,827.5 1927.62,827.5 1933.09,827.5 1938.56,827.5 1944.03,827.5 1949.5,827.5 1954.96,827.5 1960.43,827.5 1965.9,827.5" fill="none" stroke="#0000FF" stroke-width="5.2" stroke-linejoin="round" stroke-linecap="round"/>
<g opacity="0.95"><polyline points="1091,491.14 1096.47,503.53 1101.94,515.75 1107.4,527.79 1112.87,539.64 1118.34,551.31 1123.81,562.81 1129.28,574.11 1134.74,585.24 1140.21,596.19 1145.68,606.95 1151.15,617.54 1156.62,627.94 1162.09,638.16 1167.55,648.2 1173.02,658.06 1178.49,667.74 1183.96,677.23 1189.43,686.54 1194.89,695.68 1200.36,704.63 1205.83,713.4 1211.3,721.98 1216.77,730.39 1222.24,738.61 1227.7,746.66 1233.17,754.52 1238.64,762.2 1244.11,769.7 1249.58,777.02 1255.04,784.15 1260.51,791.11 1265.98,797.88 1271.45,804.47 1276.92,810.88 1282.38,817.11 1287.85,823.16 1293.32,827.5 1298.79,827.5 1304.26,827.5 1309.72,827.5 1315.19,827.5 1320.66,827.5 1326.13,827.5 1331.6,827.5 1337.07,827.5 1342.53,827.5 1348,827.5 1353.47,827.5 1358.94,827.5 1364.41,827.5 1369.87,827.5 1375.34,827.5 1380.81,827.5 1386.28,827.5 1391.75,827.5 1397.22,827.5 1402.68,827.5 1408.15,827.5 1413.62,827.5 1419.09,827.5 1424.56,827.5 1430.02,827.5 1435.49,827.5 1440.96,827.5 1446.43,827.5 1451.9,827.5 1457.36,827.5 1462.83,827.5 1468.3,827.5 1473.77,827.5 1479.24,827.5 1484.7,827.5 1490.17,827.5 1495.64,827.5 1501.11,827.5 1506.58,827.5 1512.05,827.5 1517.51,827.5 1522.98,827.5 1528.45,827.5 1533.92,827.5 1539.39,827.5 1544.85,827.5 1550.32,827.5 1555.79,827.5 1561.26,827.5 1566.73,827.5 1572.2,827.5 1577.66,827.5 1583.13,827.5 1588.6,827.5 1594.07,827.5 1599.54,827.5 1605,827.5 1610.47,827.5 1615.94,827.5 1621.41,827.5 1626.88,827.5 1632.34,827.5 1637.81,827.5 1643.28,827.5 1648.75,827.5 1654.22,827.5 1659.68,827.5 1665.15,827.5 1670.62,827.5 1676.09,827.5 1681.56,827.5 1687.03,827.5 1692.49,827.5 1697.96,827.5 1703.43,827.5 1708.9,827.5 1714.37,827.5 1719.83,827.5 1725.3,827.5 1730.77,827.5 1736.24,827.5 1741.71,827.5 1747.18,827.5 1752.64,827.5 1758.11,827.5 1763.58,827.5 1769.05,827.5 1774.52,827.5 1779.98,827.5 1785.45,827.5 1790.92,827.5 1796.39,827.5 1801.86,827.5 1807.32,827.5 1812.79,827.5 1818.26,827.5 1823.73,827.5 1829.2,827.5 1834.66,827.5 1840.13,827.5 1845.6,827.5 1851.07,827.5 1856.54,827.5 1862.01,827.5 1867.47,827.5 1872.94,827.5 1878.41,827.5 1883.88,827.5 1889.35,827.5 1894.81,827.5 1900.28,827.5 1905.75,827.5 1911.22,827.5 1916.69,827.5 1922.16,827.5 1927.62,827.5 1933.09,827.5 1938.56,827.5 1944.03,827.5 1949.5,827.5 1954.96,827.5 1960.43,827.5 1965.9,827.5" fill="none" stroke="#77AC30" stroke-width="0.8" stroke-opacity="0.6"/>
<path d="M1085.4 485.54l11.2 11.2M1085.4 496.74l11.2 -11.2M1090.87 497.93l11.2 11.2M1090.87 509.13l11.2 -11.2M1096.34 510.15l11.2 11.2M1096.34 521.35l11.2 -11.2M1101.8 522.19l11.2 11.2M1101.8 533.39l11.2 -11.2M1107.27 534.04l11.2 11.2M1107.27 545.24l11.2 -11.2M1112.74 545.71l11.2 11.2M1112.74 556.91l11.2 -11.2M1118.21 557.21l11.2 11.2M1118.21 568.41l11.2 -11.2M1123.68 568.51l11.2 11.2M1123.68 579.71l11.2 -11.2M1129.14 579.64l11.2 11.2M1129.14 590.84l11.2 -11.2M1134.61 590.59l11.2 11.2M1134.61 601.79l11.2 -11.2M1140.08 601.35l11.2 11.2M1140.08 612.55l11.2 -11.2M1145.55 611.94l11.2 11.2M1145.55 623.14l11.2 -11.2M1151.02 622.34l11.2 11.2M1151.02 633.54l11.2 -11.2M1156.49 632.56l11.2 11.2M1156.49 643.76l11.2 -11.2M1161.95 642.6l11.2 11.2M1161.95 653.8l11.2 -11.2M1167.42 652.46l11.2 11.2M1167.42 663.66l11.2 -11.2M1172.89 662.14l11.2 11.2M1172.89 673.34l11.2 -11.2M1178.36 671.63l11.2 11.2M1178.36 682.83l11.2 -11.2M1183.83 680.94l11.2 11.2M1183.83 692.14l11.2 -11.2M1189.29 690.08l11.2 11.2M1189.29 701.28l11.2 -11.2M1194.76 699.03l11.2 11.2M1194.76 710.23l11.2 -11.2M1200.23 707.8l11.2 11.2M1200.23 719l11.2 -11.2M1205.7 716.38l11.2 11.2M1205.7 727.58l11.2 -11.2M1211.17 724.79l11.2 11.2M1211.17 735.99l11.2 -11.2M1216.64 733.01l11.2 11.2M1216.64 744.21l11.2 -11.2M1222.1 741.06l11.2 11.2M1222.1 752.26l11.2 -11.2M1227.57 748.92l11.2 11.2M1227.57 760.12l11.2 -11.2M1233.04 756.6l11.2 11.2M1233.04 767.8l11.2 -11.2M1238.51 764.1l11.2 11.2M1238.51 775.3l11.2 -11.2M1243.98 771.42l11.2 11.2M1243.98 782.62l11.2 -11.2M1249.44 778.55l11.2 11.2M1249.44 789.75l11.2 -11.2M1254.91 785.51l11.2 11.2M1254.91 796.71l11.2 -11.2M1260.38 792.28l11.2 11.2M1260.38 803.48l11.2 -11.2M1265.85 798.87l11.2 11.2M1265.85 810.07l11.2 -11.2M1271.32 805.28l11.2 11.2M1271.32 816.48l11.2 -11.2M1276.78 811.51l11.2 11.2M1276.78 822.71l11.2 -11.2M1282.25 817.56l11.2 11.2M1282.25 828.76l11.2 -11.2M1287.72 821.9l11.2 11.2M1287.72 833.1l11.2 -11.2M1293.19 821.9l11.2 11.2M1293.19 833.1l11.2 -11.2M1298.66 821.9l11.2 11.2M1298.66 833.1l11.2 -11.2M1304.12 821.9l11.2 11.2M1304.12 833.1l11.2 -11.2M1309.59 821.9l11.2 11.2M1309.59 833.1l11.2 -11.2M1315.06 821.9l11.2 11.2M1315.06 833.1l11.2 -11.2M1320.53 821.9l11.2 11.2M1320.53 833.1l11.2 -11.2M1326 821.9l11.2 11.2M1326 833.1l11.2 -11.2M1331.47 821.9l11.2 11.2M1331.47 833.1l11.2 -11.2M1336.93 821.9l11.2 11.2M1336.93 833.1l11.2 -11.2M1342.4 821.9l11.2 11.2M1342.4 833.1l11.2 -11.2M1347.87 821.9l11.2 11.2M1347.87 833.1l11.2 -11.2M1353.34 821.9l11.2 11.2M1353.34 833.1l11.2 -11.2M1358.81 821.9l11.2 11.2M1358.81 833.1l11.2 -11.2M1364.27 821.9l11.2 11.2M1364.27 833.1l11.2 -11.2M1369.74 821.9l11.2 11.2M1369.74 833.1l11.2 -11.2M1375.21 821.9l11.2 11.2M1375.21 833.1l11.2 -11.2M1380.68 821.9l11.2 11.2M1380.68 833.1l11.2 -11.2M1386.15 821.9l11.2 11.2M1386.15 833.1l11.2 -11.2M1391.62 821.9l11.2 11.2M1391.62 833.1l11.2 -11.2M1397.08 821.9l11.2 11.2M1397.08 833.1l11.2 -11.2M1402.55 821.9l11.2 11.2M1402.55 833.1l11.2 -11.2M1408.02 821.9l11.2 11.2M1408.02 833.1l11.2 -11.2M1413.49 821.9l11.2 11.2M1413.49 833.1l11.2 -11.2M1418.96 821.9l11.2 11.2M1418.96 833.1l11.2 -11.2M1424.42 821.9l11.2 11.2M1424.42 833.1l11.2 -11.2M1429.89 821.9l11.2 11.2M1429.89 833.1l11.2 -11.2M1435.36 821.9l11.2 11.2M1435.36 833.1l11.2 -11.2M1440.83 821.9l11.2 11.2M1440.83 833.1l11.2 -11.2M1446.3 821.9l11.2 11.2M1446.3 833.1l11.2 -11.2M1451.76 821.9l11.2 11.2M1451.76 833.1l11.2 -11.2M1457.23 821.9l11.2 11.2M1457.23 833.1l11.2 -11.2M1462.7 821.9l11.2 11.2M1462.7 833.1l11.2 -11.2M1468.17 821.9l11.2 11.2M1468.17 833.1l11.2 -11.2M1473.64 821.9l11.2 11.2M1473.64 833.1l11.2 -11.2M1479.11 821.9l11.2 11.2M1479.11 833.1l11.2 -11.2M1484.57 821.9l11.2 11.2M1484.57 833.1l11.2 -11.2M1490.04 821.9l11.2 11.2M1490.04 833.1l11.2 -11.2M1495.51 821.9l11.2 11.2M1495.51 833.1l11.2 -11.2M1500.98 821.9l11.2 11.2M1500.98 833.1l11.2 -11.2M1506.45 821.9l11.2 11.2M1506.45 833.1l11.2 -11.2M1511.91 821.9l11.2 11.2M1511.91 833.1l11.2 -11.2M1517.38 821.9l11.2 11.2M1517.38 833.1l11.2 -11.2M1522.85 821.9l11.2 11.2M1522.85 833.1l11.2 -11.2M1528.32 821.9l11.2 11.2M1528.32 833.1l11.2 -11.2M1533.79 821.9l11.2 11.2M1533.79 833.1l11.2 -11.2M1539.25 821.9l11.2 11.2M1539.25 833.1l11.2 -11.2M1544.72 821.9l11.2 11.2M1544.72 833.1l11.2 -11.2M1550.19 821.9l11.2 11.2M1550.19 833.1l11.2 -11.2M1555.66 821.9l11.2 11.2M1555.66 833.1l11.2 -11.2M1561.13 821.9l11.2 11.2M1561.13 833.1l11.2 -11.2M1566.6 821.9l11.2 11.2M1566.6 833.1l11.2 -11.2M1572.06 821.9l11.2 11.2M1572.06 833.1l11.2 -11.2M1577.53 821.9l11.2 11.2M1577.53 833.1l11.2 -11.2M1583 821.9l11.2 11.2M1583 833.1l11.2 -11.2M1588.47 821.9l11.2 11.2M1588.47 833.1l11.2 -11.2M1593.94 821.9l11.2 11.2M1593.94 833.1l11.2 -11.2M1599.4 821.9l11.2 11.2M1599.4 833.1l11.2 -11.2M1604.87 821.9l11.2 11.2M1604.87 833.1l11.2 -11.2M1610.34 821.9l11.2 11.2M1610.34 833.1l11.2 -11.2M1615.81 821.9l11.2 11.2M1615.81 833.1l11.2 -11.2M1621.28 821.9l11.2 11.2M1621.28 833.1l11.2 -11.2M1626.74 821.9l11.2 11.2M1626.74 833.1l11.2 -11.2M1632.21 821.9l11.2 11.2M1632.21 833.1l11.2 -11.2M1637.68 821.9l11.2 11.2M1637.68 833.1l11.2 -11.2M1643.15 821.9l11.2 11.2M1643.15 833.1l11.2 -11.2M1648.62 821.9l11.2 11.2M1648.62 833.1l11.2 -11.2M1654.09 821.9l11.2 11.2M1654.09 833.1l11.2 -11.2M1659.55 821.9l11.2 11.2M1659.55 833.1l11.2 -11.2M1665.02 821.9l11.2 11.2M1665.02 833.1l11.2 -11.2M1670.49 821.9l11.2 11.2M1670.49 833.1l11.2 -11.2M1675.96 821.9l11.2 11.2M1675.96 833.1l11.2 -11.2M1681.43 821.9l11.2 11.2M1681.43 833.1l11.2 -11.2M1686.89 821.9l11.2 11.2M1686.89 833.1l11.2 -11.2M1692.36 821.9l11.2 11.2M1692.36 833.1l11.2 -11.2M1697.83 821.9l11.2 11.2M1697.83 833.1l11.2 -11.2M1703.3 821.9l11.2 11.2M1703.3 833.1l11.2 -11.2M1708.77 821.9l11.2 11.2M1708.77 833.1l11.2 -11.2M1714.23 821.9l11.2 11.2M1714.23 833.1l11.2 -11.2M1719.7 821.9l11.2 11.2M1719.7 833.1l11.2 -11.2M1725.17 821.9l11.2 11.2M1725.17 833.1l11.2 -11.2M1730.64 821.9l11.2 11.2M1730.64 833.1l11.2 -11.2M1736.11 821.9l11.2 11.2M1736.11 833.1l11.2 -11.2M1741.58 821.9l11.2 11.2M1741.58 833.1l11.2 -11.2M1747.04 821.9l11.2 11.2M1747.04 833.1l11.2 -11.2M1752.51 821.9l11.2 11.2M1752.51 833.1l11.2 -11.2M1757.98 821.9l11.2 11.2M1757.98 833.1l11.2 -11.2M1763.45 821.9l11.2 11.2M1763.45 833.1l11.2 -11.2M1768.92 821.9l11.2 11.2M1768.92 833.1l11.2 -11.2M1774.38 821.9l11.2 11.2M1774.38 833.1l11.2 -11.2M1779.85 821.9l11.2 11.2M1779.85 833.1l11.2 -11.2M1785.32 821.9l11.2 11.2M1785.32 833.1l11.2 -11.2M1790.79 821.9l11.2 11.2M1790.79 833.1l11.2 -11.2M1796.26 821.9l11.2 11.2M1796.26 833.1l11.2 -11.2M1801.72 821.9l11.2 11.2M1801.72 833.1l11.2 -11.2M1807.19 821.9l11.2 11.2M1807.19 833.1l11.2 -11.2M1812.66 821.9l11.2 11.2M1812.66 833.1l11.2 -11.2M1818.13 821.9l11.2 11.2M1818.13 833.1l11.2 -11.2M1823.6 821.9l11.2 11.2M1823.6 833.1l11.2 -11.2M1829.07 821.9l11.2 11.2M1829.07 833.1l11.2 -11.2M1834.53 821.9l11.2 11.2M1834.53 833.1l11.2 -11.2M1840 821.9l11.2 11.2M1840 833.1l11.2 -11.2M1845.47 821.9l11.2 11.2M1845.47 833.1l11.2 -11.2M1850.94 821.9l11.2 11.2M1850.94 833.1l11.2 -11.2M1856.41 821.9l11.2 11.2M1856.41 833.1l11.2 -11.2M1861.87 821.9l11.2 11.2M1861.87 833.1l11.2 -11.2M1867.34 821.9l11.2 11.2M1867.34 833.1l11.2 -11.2M1872.81 821.9l11.2 11.2M1872.81 833.1l11.2 -11.2M1878.28 821.9l11.2 11.2M1878.28 833.1l11.2 -11.2M1883.75 821.9l11.2 11.2M1883.75 833.1l11.2 -11.2M1889.21 821.9l11.2 11.2M1889.21 833.1l11.2 -11.2M1894.68 821.9l11.2 11.2M1894.68 833.1l11.2 -11.2M1900.15 821.9l11.2 11.2M1900.15 833.1l11.2 -11.2M1905.62 821.9l11.2 11.2M1905.62 833.1l11.2 -11.2M1911.09 821.9l11.2 11.2M1911.09 833.1l11.2 -11.2M1916.56 821.9l11.2 11.2M1916.56 833.1l11.2 -11.2M1922.02 821.9l11.2 11.2M1922.02 833.1l11.2 -11.2M1927.49 821.9l11.2 11.2M1927.49 833.1l11.2 -11.2M1932.96 821.9l11.2 11.2M1932.96 833.1l11.2 -11.2M1938.43 821.9l11.2 11.2M1938.43 833.1l11.2 -11.2M1943.9 821.9l11.2 11.2M1943.9 833.1l11.2 -11.2M1949.36 821.9l11.2 11.2M1949.36 833.1l11.2 -11.2M1954.83 821.9l11.2 11.2M1954.83 833.1l11.2 -11.2M1960.3 821.9l11.2 11.2M1960.3 833.1l11.2 -11.2" fill="none" stroke="#77AC30" stroke-width="0.8"/></g>
<polyline points="1091,491.14 1096.47,494.08 1101.94,497.45 1107.4,500.96 1112.87,504.55 1118.34,508.17 1123.81,511.82 1129.28,515.47 1134.74,519.11 1140.21,522.73 1145.68,526.34 1151.15,529.92 1156.62,533.46 1162.09,536.98 1167.55,540.45 1173.02,543.89 1178.49,547.29 1183.96,550.64 1189.43,553.95 1194.89,557.22 1200.36,560.44 1205.83,563.61 1211.3,566.74 1216.77,569.82 1222.24,572.86 1227.7,575.84 1233.17,578.78 1238.64,581.68 1244.11,584.52 1249.58,587.32 1255.04,590.07 1260.51,592.77 1265.98,595.43 1271.45,598.04 1276.92,600.61 1282.38,603.13 1287.85,605.6 1293.32,608.03 1298.79,610.42 1304.26,612.76 1309.72,615.06 1315.19,617.32 1320.66,619.53 1326.13,621.71 1331.6,623.84 1337.07,625.93 1342.53,627.98 1348,629.99 1353.47,631.97 1358.94,633.9 1364.41,635.8 1369.87,637.66 1375.34,639.48 1380.81,641.27 1386.28,643.02 1391.75,644.74 1397.22,646.42 1402.68,648.07 1408.15,649.68 1413.62,651.27 1419.09,652.82 1424.56,654.34 1430.02,655.82 1435.49,657.28 1440.96,658.71 1446.43,660.11 1451.9,661.47 1457.36,662.81 1462.83,664.13 1468.3,665.41 1473.77,666.67 1479.24,667.9 1484.7,669.1 1490.17,670.28 1495.64,671.44 1501.11,672.57 1506.58,673.68 1512.05,674.76 1517.51,675.82 1522.98,676.85 1528.45,677.87 1533.92,678.86 1539.39,679.83 1544.85,680.78 1550.32,681.71 1555.79,682.62 1561.26,683.51 1566.73,684.38 1572.2,685.23 1577.66,686.06 1583.13,686.88 1588.6,687.67 1594.07,688.45 1599.54,689.21 1605,689.96 1610.47,690.68 1615.94,691.4 1621.41,692.09 1626.88,692.77 1632.34,693.44 1637.81,694.09 1643.28,694.72 1648.75,695.34 1654.22,695.95 1659.68,696.55 1665.15,697.13 1670.62,697.69 1676.09,698.25 1681.56,698.79 1687.03,699.32 1692.49,699.84 1697.96,700.34 1703.43,700.84 1708.9,701.32 1714.37,701.79 1719.83,702.25 1725.3,702.71 1730.77,703.15 1736.24,703.58 1741.71,704 1747.18,704.41 1752.64,704.81 1758.11,705.2 1763.58,705.58 1769.05,705.96 1774.52,706.32 1779.98,706.68 1785.45,707.03 1790.92,707.37 1796.39,707.7 1801.86,708.03 1807.32,708.34 1812.79,708.65 1818.26,708.96 1823.73,709.25 1829.2,709.54 1834.66,709.82 1840.13,710.1 1845.6,710.37 1851.07,710.63 1856.54,710.89 1862.01,711.14 1867.47,711.38 1872.94,711.62 1878.41,711.85 1883.88,712.08 1889.35,712.3 1894.81,712.52 1900.28,712.73 1905.75,712.94 1911.22,713.14 1916.69,713.33 1922.16,713.53 1927.62,713.71 1933.09,713.9 1938.56,714.08 1944.03,714.25 1949.5,714.42 1954.96,714.59 1960.43,714.75 1965.9,714.91" fill="none" stroke="#FF0000" stroke-width="5.8" stroke-linejoin="round" stroke-dasharray="24 6 12 6"/>
<polyline points="1091,491.14 1096.47,491.14 1101.94,491.14 1107.4,491.14 1112.87,491.14 1118.34,491.14 1123.81,491.14 1129.28,491.14 1134.74,491.14 1140.21,491.14 1145.68,491.14 1151.15,491.14 1156.62,491.14 1162.09,491.14 1167.55,491.14 1173.02,491.14 1178.49,491.14 1183.96,491.14 1189.43,491.14 1194.89,491.14 1200.36,491.14 1205.83,491.14 1211.3,491.14 1216.77,491.14 1222.24,491.14 1227.7,491.14 1233.17,491.14 1238.64,491.14 1244.11,491.14 1249.58,491.14 1255.04,491.14 1260.51,491.14 1265.98,491.14 1271.45,491.14 1276.92,491.14 1282.38,491.14 1287.85,491.14 1293.32,491.14 1298.79,491.14 1304.26,491.14 1309.72,491.14 1315.19,491.14 1320.66,491.14 1326.13,491.14 1331.6,491.14 1337.07,491.14 1342.53,491.14 1348,491.14 1353.47,491.14 1358.94,491.14 1364.41,491.14 1369.87,491.14 1375.34,491.14 1380.81,491.14 1386.28,491.14 1391.75,491.14 1397.22,491.14 1402.68,491.14 1408.15,491.14 1413.62,491.14 1419.09,491.14 1424.56,491.14 1430.02,491.14 1435.49,491.14 1440.96,491.14 1446.43,491.14 1451.9,491.14 1457.36,491.14 1462.83,491.14 1468.3,491.14 1473.77,491.14 1479.24,491.14 1484.7,491.14 1490.17,491.14 1495.64,491.14 1501.11,491.14 1506.58,491.14 1512.05,491.14 1517.51,491.14 1522.98,491.14 1528.45,491.14 1533.92,491.14 1539.39,491.14 1544.85,491.14 1550.32,491.14 1555.79,491.14 1561.26,491.14 1566.73,491.14 1572.2,491.14 1577.66,491.14 1583.13,491.14 1588.6,491.14 1594.07,491.14 1599.54,491.14 1605,491.14 1610.47,491.14 1615.94,491.14 1621.41,491.14 1626.88,491.14 1632.34,491.14 1637.81,491.14 1643.28,491.14 1648.75,491.14 1654.22,491.14 1659.68,491.14 1665.15,491.14 1670.62,491.14 1676.09,491.14 1681.56,491.14 1687.03,491.14 1692.49,491.14 1697.96,491.14 1703.43,491.14 1708.9,491.14 1714.37,491.14 1719.83,491.14 1725.3,491.14 1730.77,491.14 1736.24,491.14 1741.71,491.14 1747.18,491.14 1752.64,491.14 1758.11,491.14 1763.58,491.14 1769.05,491.14 1774.52,491.14 1779.98,491.14 1785.45,491.14 1790.92,491.14 1796.39,491.14 1801.86,491.14 1807.32,491.14 1812.79,491.14 1818.26,491.14 1823.73,491.14 1829.2,491.14 1834.66,491.14 1840.13,491.14 1845.6,491.14 1851.07,491.14 1856.54,491.14 1862.01,491.14 1867.47,491.14 1872.94,491.14 1878.41,491.14 1883.88,491.14 1889.35,491.14 1894.81,491.14 1900.28,491.14 1905.75,491.14 1911.22,491.14 1916.69,491.14 1922.16,491.14 1927.62,491.14 1933.09,491.14 1938.56,491.14 1944.03,491.14 1949.5,491.14 1954.96,491.14 1960.43,491.14 1965.9,491.14" fill="none" stroke="#000000" stroke-width="4.0" stroke-linejoin="round" stroke-dasharray="14.5 14.5"/>
<text x="1091" y="871" text-anchor="middle" class="tk">0</text>
<text x="1200.36" y="871" text-anchor="middle" class="tk">10</text>
<text x="1309.72" y="871" text-anchor="middle" class="tk">20</text>
<text x="1419.09" y="871" text-anchor="middle" class="tk">30</text>
<text x="1528.45" y="871" text-anchor="middle" class="tk">40</text>
<text x="1637.81" y="871" text-anchor="middle" class="tk">50</text>
<text x="1747.18" y="871" text-anchor="middle" class="tk">60</text>
<text x="1856.54" y="871" text-anchor="middle" class="tk">70</text>
<text x="1965.9" y="871" text-anchor="middle" class="tk">80</text>
<text x="1079.5" y="840" text-anchor="end" class="tk">0</text>
<text x="1079.5" y="772.73" text-anchor="end" class="tk">0.2</text>
<text x="1079.5" y="705.45" text-anchor="end" class="tk">0.4</text>
<text x="1079.5" y="638.18" text-anchor="end" class="tk">0.6</text>
<text x="1079.5" y="570.91" text-anchor="end" class="tk">0.8</text>
<text x="1079.5" y="503.64" text-anchor="end" class="tk">1</text>
<text x="123.01" y="143.8" class="lb">(a)</text>
<text x="1176.51" y="84.5" class="lb">(b)</text>
<text x="123.01" y="596.5" class="lb">(c)</text>
<text x="1219.01" y="535.5" class="lb">(d)</text>
<text transform="translate(35,194) rotate(-90) scale(0.95,1)" text-anchor="middle" class="ax">C</text>
<text transform="translate(37,643.8) rotate(-90) scale(0.95,1)" text-anchor="middle" class="ax">C</text>
<text transform="translate(543.7,925) scale(0.95,1)" text-anchor="middle" class="ax">Jt</text>
<text transform="translate(1527.6,924) scale(0.95,1)" text-anchor="middle" class="ax">Jt</text>
<rect x="1707.5" y="17.6" width="241.3" height="265.2" fill="#fff" stroke="#262626" stroke-width="1.3"/>
<line x1="1713.7" y1="47.2" x2="1773.7" y2="47.2" stroke="#EDB120" stroke-width="4.2"/>
<text transform="translate(1780,53.5) scale(1.23,1)" x="-1.37" y="0" class="dl">&#916;</text>
<text transform="translate(1815.8,53.5) scale(0.97,1)" x="0" y="0" class="lg">T <tspan dy="4">=</tspan><tspan dy="-4"> -2T</tspan><tspan class="sb" dy="15.3">M</tspan></text>
<line x1="1713.7" y1="102.2" x2="1773.7" y2="102.2" stroke="#0000FF" stroke-width="5.2"/>
<text transform="translate(1780,108.6) scale(1.23,1)" x="-1.37" y="0" class="dl">&#916;</text>
<text transform="translate(1815.8,108.6) scale(0.97,1)" x="0" y="0" class="lg">T <tspan dy="4">=</tspan><tspan dy="-4"> -T</tspan><tspan class="sb" dy="15.3">M</tspan></text>
<g opacity="0.95"><line x1="1713.7" y1="150.2" x2="1773.7" y2="150.2" stroke="#77AC30" stroke-width="0.8" stroke-opacity="0.6"/><path d="M1737.9 144.4l11.6 11.6M1737.9 156l11.6 -11.6" stroke="#77AC30" stroke-width="0.8" fill="none"/></g>
<text transform="translate(1780,163.9) scale(1.23,1)" x="-1.37" y="0" class="dl">&#916;</text>
<text transform="translate(1815.8,163.9) scale(0.97,1)" x="0" y="0" class="lg">T <tspan dy="4">=</tspan><tspan dy="-4"> 0</tspan></text>
<line x1="1713.7" y1="198.1" x2="1773.7" y2="198.1" stroke="#FF0000" stroke-width="5.8" stroke-dasharray="24 6 12 6"/>
<text transform="translate(1780,203.5) scale(1.23,1)" x="-1.37" y="0" class="dl">&#916;</text>
<text transform="translate(1815.8,203.5) scale(0.97,1)" x="0" y="0" class="lg">T <tspan dy="4">=</tspan><tspan dy="-4"> T</tspan><tspan class="sb" dy="15.3">M</tspan></text>
<line x1="1713.7" y1="253.3" x2="1773.7" y2="253.3" stroke="#000000" stroke-width="4.0" stroke-dasharray="14.5 14.5"/>
<text transform="translate(1780,258.9) scale(1.23,1)" x="-1.37" y="0" class="dl">&#916;</text>
<text transform="translate(1815.8,258.9) scale(0.97,1)" x="0" y="0" class="lg">T <tspan dy="4">=</tspan><tspan dy="-4"> 2T</tspan><tspan class="sb" dy="15.3">M</tspan></text>
</svg>
</body></html>
